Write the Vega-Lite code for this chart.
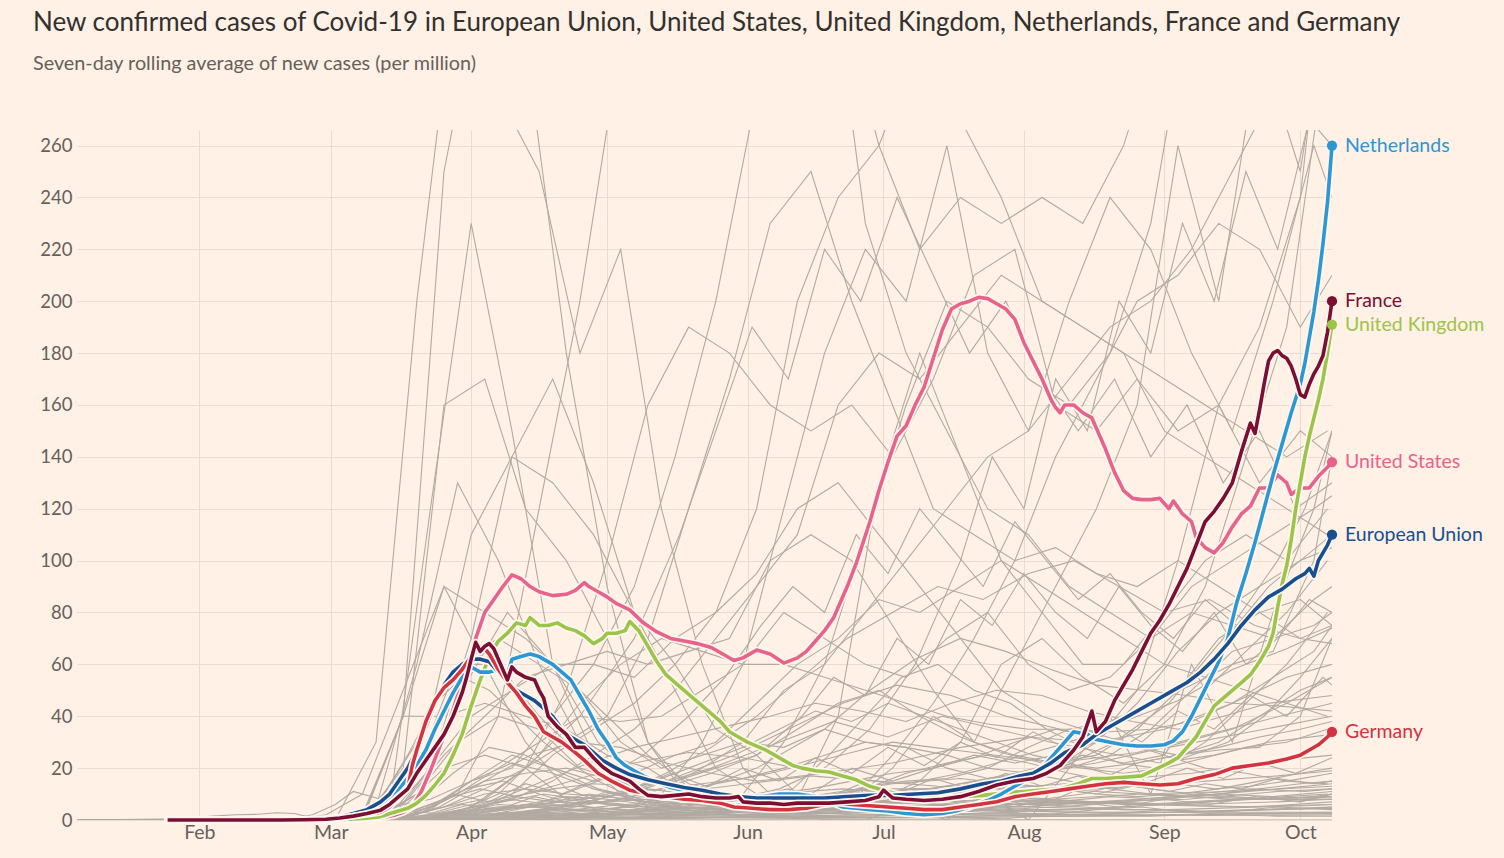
{
"$schema":"https://vega.github.io/schema/vega-lite/v6.json",
"width":1255,"height":690,
"autosize":{"type":"none"},
"padding":{"left":77,"top":130,"right":172,"bottom":38},
"background":"#fff1e5",
"config":{"view":{"stroke":null},"font":"Lato"},
"title":{"text":"New confirmed cases of Covid-19 in European Union, United States, United Kingdom, Netherlands, France and Germany","subtitle":"Seven-day rolling average of new cases (per million)","anchor":"start","frame":"group","dx":-44,"offset":56,"font":"Lato","fontSize":26,"fontWeight":"normal","color":"#33302e","subtitleFont":"Lato","subtitleFontSize":19.8,"subtitleColor":"#66605c","subtitlePadding":18},
"datasets":{
"grey":[
{"s":"h1","d":5,"v":0},{"s":"h1","d":68,"v":0},{"s":"h1","d":77,"v":40},{"s":"h1","d":86,"v":250},{"s":"h1","d":95,"v":330},{"s":"h1","d":104,"v":300},{"s":"h1","d":113,"v":180},{"s":"h1","d":122,"v":90},{"s":"h1","d":131,"v":30},{"s":"h1","d":140,"v":8},{"s":"h1","d":149,"v":5},{"s":"h1","d":158,"v":10},{"s":"h1","d":167,"v":5},{"s":"h1","d":176,"v":8},{"s":"h1","d":185,"v":20},{"s":"h1","d":194,"v":40},{"s":"h1","d":203,"v":30},{"s":"h1","d":212,"v":60},{"s":"h1","d":221,"v":90},{"s":"h1","d":230,"v":120},{"s":"h1","d":239,"v":160},{"s":"h1","d":248,"v":260},{"s":"h1","d":257,"v":200},{"s":"h1","d":266,"v":300},{"s":"h1","d":275,"v":250},{"s":"h1","d":282,"v":330},
{"s":"h2","d":5,"v":0},{"s":"h2","d":62,"v":0},{"s":"h2","d":71,"v":30},{"s":"h2","d":80,"v":200},{"s":"h2","d":89,"v":330},{"s":"h2","d":98,"v":280},{"s":"h2","d":107,"v":250},{"s":"h2","d":116,"v":180},{"s":"h2","d":125,"v":220},{"s":"h2","d":134,"v":120},{"s":"h2","d":143,"v":60},{"s":"h2","d":152,"v":20},{"s":"h2","d":161,"v":5},{"s":"h2","d":170,"v":0},{"s":"h2","d":179,"v":0},{"s":"h2","d":188,"v":5},{"s":"h2","d":197,"v":0},{"s":"h2","d":206,"v":10},{"s":"h2","d":215,"v":0},{"s":"h2","d":224,"v":20},{"s":"h2","d":233,"v":40},{"s":"h2","d":242,"v":10},{"s":"h2","d":251,"v":60},{"s":"h2","d":260,"v":30},{"s":"h2","d":269,"v":80},{"s":"h2","d":278,"v":120},{"s":"h2","d":282,"v":150},
{"s":"h3","d":5,"v":0},{"s":"h3","d":65,"v":0},{"s":"h3","d":74,"v":5},{"s":"h3","d":83,"v":120},{"s":"h3","d":92,"v":230},{"s":"h3","d":101,"v":150},{"s":"h3","d":110,"v":60},{"s":"h3","d":119,"v":25},{"s":"h3","d":128,"v":10},{"s":"h3","d":137,"v":5},{"s":"h3","d":146,"v":4},{"s":"h3","d":155,"v":3},{"s":"h3","d":164,"v":8},{"s":"h3","d":173,"v":40},{"s":"h3","d":182,"v":130},{"s":"h3","d":191,"v":180},{"s":"h3","d":200,"v":140},{"s":"h3","d":209,"v":100},{"s":"h3","d":218,"v":80},{"s":"h3","d":227,"v":60},{"s":"h3","d":236,"v":60},{"s":"h3","d":245,"v":80},{"s":"h3","d":254,"v":100},{"s":"h3","d":263,"v":110},{"s":"h3","d":272,"v":100},{"s":"h3","d":281,"v":120},
{"s":"h4","d":5,"v":0},{"s":"h4","d":68,"v":0},{"s":"h4","d":77,"v":20},{"s":"h4","d":86,"v":160},{"s":"h4","d":95,"v":170},{"s":"h4","d":104,"v":120},{"s":"h4","d":113,"v":100},{"s":"h4","d":122,"v":70},{"s":"h4","d":131,"v":30},{"s":"h4","d":140,"v":12},{"s":"h4","d":149,"v":8},{"s":"h4","d":158,"v":6},{"s":"h4","d":167,"v":6},{"s":"h4","d":176,"v":8},{"s":"h4","d":185,"v":25},{"s":"h4","d":194,"v":45},{"s":"h4","d":203,"v":70},{"s":"h4","d":212,"v":100},{"s":"h4","d":221,"v":140},{"s":"h4","d":230,"v":170},{"s":"h4","d":239,"v":200},{"s":"h4","d":248,"v":210},{"s":"h4","d":257,"v":230},{"s":"h4","d":266,"v":220},{"s":"h4","d":275,"v":190},{"s":"h4","d":282,"v":210},
{"s":"h5","d":5,"v":0},{"s":"h5","d":71,"v":0},{"s":"h5","d":80,"v":2},{"s":"h5","d":89,"v":10},{"s":"h5","d":98,"v":40},{"s":"h5","d":107,"v":120},{"s":"h5","d":116,"v":200},{"s":"h5","d":125,"v":300},{"s":"h5","d":134,"v":350},{"s":"h5","d":143,"v":420},{"s":"h5","d":152,"v":500},{"s":"h5","d":161,"v":450},{"s":"h5","d":170,"v":350},{"s":"h5","d":179,"v":230},{"s":"h5","d":188,"v":180},{"s":"h5","d":197,"v":150},{"s":"h5","d":206,"v":120},{"s":"h5","d":215,"v":110},{"s":"h5","d":224,"v":90},{"s":"h5","d":233,"v":80},{"s":"h5","d":242,"v":70},{"s":"h5","d":251,"v":80},{"s":"h5","d":260,"v":75},{"s":"h5","d":269,"v":70},{"s":"h5","d":278,"v":75},{"s":"h5","d":282,"v":80},
{"s":"h6","d":5,"v":0},{"s":"h6","d":65,"v":0},{"s":"h6","d":74,"v":5},{"s":"h6","d":83,"v":8},{"s":"h6","d":92,"v":15},{"s":"h6","d":101,"v":20},{"s":"h6","d":110,"v":40},{"s":"h6","d":119,"v":60},{"s":"h6","d":128,"v":90},{"s":"h6","d":137,"v":140},{"s":"h6","d":146,"v":200},{"s":"h6","d":155,"v":280},{"s":"h6","d":164,"v":300},{"s":"h6","d":173,"v":320},{"s":"h6","d":182,"v":260},{"s":"h6","d":191,"v":220},{"s":"h6","d":200,"v":240},{"s":"h6","d":209,"v":230},{"s":"h6","d":218,"v":240},{"s":"h6","d":227,"v":230},{"s":"h6","d":236,"v":260},{"s":"h6","d":245,"v":310},{"s":"h6","d":254,"v":370},{"s":"h6","d":263,"v":330},{"s":"h6","d":272,"v":300},{"s":"h6","d":281,"v":280},
{"s":"h7","d":5,"v":0},{"s":"h7","d":68,"v":0},{"s":"h7","d":77,"v":1},{"s":"h7","d":86,"v":5},{"s":"h7","d":95,"v":12},{"s":"h7","d":104,"v":20},{"s":"h7","d":113,"v":30},{"s":"h7","d":122,"v":40},{"s":"h7","d":131,"v":70},{"s":"h7","d":140,"v":120},{"s":"h7","d":149,"v":170},{"s":"h7","d":158,"v":230},{"s":"h7","d":167,"v":250},{"s":"h7","d":176,"v":200},{"s":"h7","d":185,"v":160},{"s":"h7","d":194,"v":120},{"s":"h7","d":203,"v":110},{"s":"h7","d":212,"v":100},{"s":"h7","d":221,"v":105},{"s":"h7","d":230,"v":95},{"s":"h7","d":239,"v":90},{"s":"h7","d":248,"v":100},{"s":"h7","d":257,"v":90},{"s":"h7","d":266,"v":80},{"s":"h7","d":275,"v":85},{"s":"h7","d":282,"v":75},
{"s":"h8","d":5,"v":0},{"s":"h8","d":62,"v":0},{"s":"h8","d":71,"v":5},{"s":"h8","d":80,"v":30},{"s":"h8","d":89,"v":60},{"s":"h8","d":98,"v":60},{"s":"h8","d":107,"v":40},{"s":"h8","d":116,"v":25},{"s":"h8","d":125,"v":10},{"s":"h8","d":134,"v":3},{"s":"h8","d":143,"v":3},{"s":"h8","d":152,"v":10},{"s":"h8","d":161,"v":30},{"s":"h8","d":170,"v":60},{"s":"h8","d":179,"v":110},{"s":"h8","d":188,"v":160},{"s":"h8","d":197,"v":200},{"s":"h8","d":206,"v":190},{"s":"h8","d":215,"v":170},{"s":"h8","d":224,"v":160},{"s":"h8","d":233,"v":180},{"s":"h8","d":242,"v":230},{"s":"h8","d":251,"v":320},{"s":"h8","d":260,"v":450},{"s":"h8","d":269,"v":600},{"s":"h8","d":278,"v":450},{"s":"h8","d":282,"v":350},
{"s":"h9","d":5,"v":0},{"s":"h9","d":74,"v":0},{"s":"h9","d":83,"v":20},{"s":"h9","d":92,"v":40},{"s":"h9","d":101,"v":50},{"s":"h9","d":110,"v":60},{"s":"h9","d":119,"v":60},{"s":"h9","d":128,"v":55},{"s":"h9","d":137,"v":70},{"s":"h9","d":146,"v":80},{"s":"h9","d":155,"v":120},{"s":"h9","d":164,"v":200},{"s":"h9","d":173,"v":240},{"s":"h9","d":182,"v":260},{"s":"h9","d":191,"v":300},{"s":"h9","d":200,"v":270},{"s":"h9","d":209,"v":240},{"s":"h9","d":218,"v":200},{"s":"h9","d":227,"v":190},{"s":"h9","d":236,"v":180},{"s":"h9","d":245,"v":170},{"s":"h9","d":254,"v":160},{"s":"h9","d":263,"v":150},{"s":"h9","d":272,"v":140},{"s":"h9","d":281,"v":150},
{"s":"h10","d":5,"v":0},{"s":"h10","d":68,"v":0},{"s":"h10","d":77,"v":5},{"s":"h10","d":86,"v":20},{"s":"h10","d":95,"v":25},{"s":"h10","d":104,"v":20},{"s":"h10","d":113,"v":8},{"s":"h10","d":122,"v":6},{"s":"h10","d":131,"v":5},{"s":"h10","d":140,"v":5},{"s":"h10","d":149,"v":5},{"s":"h10","d":158,"v":7},{"s":"h10","d":167,"v":10},{"s":"h10","d":176,"v":20},{"s":"h10","d":185,"v":15},{"s":"h10","d":194,"v":20},{"s":"h10","d":203,"v":25},{"s":"h10","d":212,"v":22},{"s":"h10","d":221,"v":25},{"s":"h10","d":230,"v":30},{"s":"h10","d":239,"v":50},{"s":"h10","d":248,"v":100},{"s":"h10","d":257,"v":160},{"s":"h10","d":266,"v":190},{"s":"h10","d":275,"v":240},{"s":"h10","d":282,"v":350},
{"s":"h11","d":5,"v":0},{"s":"h11","d":71,"v":0},{"s":"h11","d":80,"v":10},{"s":"h11","d":89,"v":30},{"s":"h11","d":98,"v":40},{"s":"h11","d":107,"v":35},{"s":"h11","d":116,"v":20},{"s":"h11","d":125,"v":15},{"s":"h11","d":134,"v":10},{"s":"h11","d":143,"v":30},{"s":"h11","d":152,"v":60},{"s":"h11","d":161,"v":120},{"s":"h11","d":170,"v":180},{"s":"h11","d":179,"v":220},{"s":"h11","d":188,"v":200},{"s":"h11","d":197,"v":260},{"s":"h11","d":206,"v":180},{"s":"h11","d":215,"v":150},{"s":"h11","d":224,"v":200},{"s":"h11","d":233,"v":240},{"s":"h11","d":242,"v":220},{"s":"h11","d":251,"v":180},{"s":"h11","d":260,"v":150},{"s":"h11","d":269,"v":200},{"s":"h11","d":278,"v":260},{"s":"h11","d":282,"v":240},
{"s":"h12","d":5,"v":0},{"s":"h12","d":65,"v":0},{"s":"h12","d":74,"v":3},{"s":"h12","d":83,"v":40},{"s":"h12","d":92,"v":110},{"s":"h12","d":101,"v":140},{"s":"h12","d":110,"v":130},{"s":"h12","d":119,"v":110},{"s":"h12","d":128,"v":80},{"s":"h12","d":137,"v":60},{"s":"h12","d":146,"v":35},{"s":"h12","d":155,"v":25},{"s":"h12","d":164,"v":10},{"s":"h12","d":173,"v":8},{"s":"h12","d":182,"v":8},{"s":"h12","d":191,"v":15},{"s":"h12","d":200,"v":30},{"s":"h12","d":209,"v":60},{"s":"h12","d":218,"v":70},{"s":"h12","d":227,"v":55},{"s":"h12","d":236,"v":45},{"s":"h12","d":245,"v":60},{"s":"h12","d":254,"v":90},{"s":"h12","d":263,"v":140},{"s":"h12","d":272,"v":190},{"s":"h12","d":281,"v":300},
{"s":"h13","d":5,"v":0},{"s":"h13","d":68,"v":0},{"s":"h13","d":77,"v":1},{"s":"h13","d":86,"v":5},{"s":"h13","d":95,"v":8},{"s":"h13","d":104,"v":20},{"s":"h13","d":113,"v":50},{"s":"h13","d":122,"v":100},{"s":"h13","d":131,"v":160},{"s":"h13","d":140,"v":190},{"s":"h13","d":149,"v":180},{"s":"h13","d":158,"v":160},{"s":"h13","d":167,"v":150},{"s":"h13","d":176,"v":160},{"s":"h13","d":185,"v":140},{"s":"h13","d":194,"v":170},{"s":"h13","d":203,"v":210},{"s":"h13","d":212,"v":220},{"s":"h13","d":221,"v":160},{"s":"h13","d":230,"v":150},{"s":"h13","d":239,"v":170},{"s":"h13","d":248,"v":150},{"s":"h13","d":257,"v":160},{"s":"h13","d":266,"v":130},{"s":"h13","d":275,"v":150},{"s":"h13","d":282,"v":140},
{"s":"h14","d":5,"v":0},{"s":"h14","d":71,"v":0},{"s":"h14","d":80,"v":1},{"s":"h14","d":89,"v":3},{"s":"h14","d":98,"v":5},{"s":"h14","d":107,"v":5},{"s":"h14","d":116,"v":6},{"s":"h14","d":125,"v":8},{"s":"h14","d":134,"v":12},{"s":"h14","d":143,"v":20},{"s":"h14","d":152,"v":30},{"s":"h14","d":161,"v":50},{"s":"h14","d":170,"v":60},{"s":"h14","d":179,"v":80},{"s":"h14","d":188,"v":100},{"s":"h14","d":197,"v":120},{"s":"h14","d":206,"v":140},{"s":"h14","d":215,"v":150},{"s":"h14","d":224,"v":170},{"s":"h14","d":233,"v":190},{"s":"h14","d":242,"v":200},{"s":"h14","d":251,"v":220},{"s":"h14","d":260,"v":250},{"s":"h14","d":269,"v":280},{"s":"h14","d":278,"v":300},{"s":"h14","d":282,"v":300},
{"s":"m1","d":5,"v":0},{"s":"m1","d":52,"v":0},{"s":"m1","d":60,"v":2},{"s":"m1","d":68,"v":10},{"s":"m1","d":77,"v":50},{"s":"m1","d":86,"v":90},{"s":"m1","d":95,"v":80},{"s":"m1","d":104,"v":70},{"s":"m1","d":113,"v":55},{"s":"m1","d":122,"v":40},{"s":"m1","d":131,"v":25},{"s":"m1","d":140,"v":14},{"s":"m1","d":149,"v":10},{"s":"m1","d":158,"v":6},{"s":"m1","d":167,"v":5},{"s":"m1","d":176,"v":4},{"s":"m1","d":185,"v":3},{"s":"m1","d":194,"v":4},{"s":"m1","d":203,"v":4},{"s":"m1","d":212,"v":6},{"s":"m1","d":221,"v":8},{"s":"m1","d":230,"v":15},{"s":"m1","d":239,"v":22},{"s":"m1","d":248,"v":25},{"s":"m1","d":257,"v":27},{"s":"m1","d":266,"v":28},{"s":"m1","d":275,"v":40},{"s":"m1","d":282,"v":70},
{"s":"m2","d":5,"v":0},{"s":"m2","d":62,"v":0},{"s":"m2","d":71,"v":5},{"s":"m2","d":80,"v":60},{"s":"m2","d":89,"v":130},{"s":"m2","d":98,"v":100},{"s":"m2","d":107,"v":60},{"s":"m2","d":116,"v":30},{"s":"m2","d":125,"v":15},{"s":"m2","d":134,"v":6},{"s":"m2","d":143,"v":3},{"s":"m2","d":152,"v":2},{"s":"m2","d":161,"v":3},{"s":"m2","d":170,"v":8},{"s":"m2","d":179,"v":13},{"s":"m2","d":188,"v":15},{"s":"m2","d":197,"v":16},{"s":"m2","d":206,"v":20},{"s":"m2","d":215,"v":28},{"s":"m2","d":224,"v":35},{"s":"m2","d":233,"v":38},{"s":"m2","d":242,"v":45},{"s":"m2","d":251,"v":52},{"s":"m2","d":260,"v":60},{"s":"m2","d":269,"v":65},{"s":"m2","d":278,"v":100},{"s":"m2","d":282,"v":140},
{"s":"m3","d":5,"v":0},{"s":"m3","d":65,"v":0},{"s":"m3","d":74,"v":2},{"s":"m3","d":83,"v":20},{"s":"m3","d":92,"v":70},{"s":"m3","d":101,"v":140},{"s":"m3","d":110,"v":170},{"s":"m3","d":119,"v":130},{"s":"m3","d":128,"v":80},{"s":"m3","d":137,"v":50},{"s":"m3","d":146,"v":20},{"s":"m3","d":155,"v":10},{"s":"m3","d":164,"v":4},{"s":"m3","d":173,"v":4},{"s":"m3","d":182,"v":3},{"s":"m3","d":191,"v":4},{"s":"m3","d":200,"v":5},{"s":"m3","d":209,"v":12},{"s":"m3","d":218,"v":20},{"s":"m3","d":227,"v":25},{"s":"m3","d":236,"v":22},{"s":"m3","d":245,"v":25},{"s":"m3","d":254,"v":50},{"s":"m3","d":263,"v":65},{"s":"m3","d":272,"v":80},{"s":"m3","d":281,"v":100},
{"s":"m4","d":5,"v":0},{"s":"m4","d":68,"v":0},{"s":"m4","d":77,"v":6},{"s":"m4","d":86,"v":25},{"s":"m4","d":95,"v":40},{"s":"m4","d":104,"v":55},{"s":"m4","d":113,"v":60},{"s":"m4","d":122,"v":65},{"s":"m4","d":131,"v":60},{"s":"m4","d":140,"v":65},{"s":"m4","d":149,"v":70},{"s":"m4","d":158,"v":100},{"s":"m4","d":167,"v":110},{"s":"m4","d":176,"v":100},{"s":"m4","d":185,"v":75},{"s":"m4","d":194,"v":50},{"s":"m4","d":203,"v":30},{"s":"m4","d":212,"v":25},{"s":"m4","d":221,"v":22},{"s":"m4","d":230,"v":20},{"s":"m4","d":239,"v":22},{"s":"m4","d":248,"v":25},{"s":"m4","d":257,"v":30},{"s":"m4","d":266,"v":40},{"s":"m4","d":275,"v":50},{"s":"m4","d":282,"v":55},
{"s":"m5","d":5,"v":0},{"s":"m5","d":62,"v":0},{"s":"m5","d":71,"v":1},{"s":"m5","d":80,"v":20},{"s":"m5","d":89,"v":60},{"s":"m5","d":98,"v":70},{"s":"m5","d":107,"v":60},{"s":"m5","d":116,"v":50},{"s":"m5","d":125,"v":30},{"s":"m5","d":134,"v":20},{"s":"m5","d":143,"v":25},{"s":"m5","d":152,"v":30},{"s":"m5","d":161,"v":28},{"s":"m5","d":170,"v":35},{"s":"m5","d":179,"v":30},{"s":"m5","d":188,"v":28},{"s":"m5","d":197,"v":20},{"s":"m5","d":206,"v":16},{"s":"m5","d":215,"v":18},{"s":"m5","d":224,"v":20},{"s":"m5","d":233,"v":25},{"s":"m5","d":242,"v":35},{"s":"m5","d":251,"v":50},{"s":"m5","d":260,"v":65},{"s":"m5","d":269,"v":70},{"s":"m5","d":278,"v":85},{"s":"m5","d":282,"v":90},
{"s":"m6","d":5,"v":0},{"s":"m6","d":74,"v":0},{"s":"m6","d":83,"v":1},{"s":"m6","d":92,"v":4},{"s":"m6","d":101,"v":8},{"s":"m6","d":110,"v":15},{"s":"m6","d":119,"v":25},{"s":"m6","d":128,"v":35},{"s":"m6","d":137,"v":50},{"s":"m6","d":146,"v":70},{"s":"m6","d":155,"v":90},{"s":"m6","d":164,"v":110},{"s":"m6","d":173,"v":160},{"s":"m6","d":182,"v":180},{"s":"m6","d":191,"v":170},{"s":"m6","d":200,"v":190},{"s":"m6","d":209,"v":210},{"s":"m6","d":218,"v":200},{"s":"m6","d":227,"v":190},{"s":"m6","d":236,"v":180},{"s":"m6","d":245,"v":150},{"s":"m6","d":254,"v":140},{"s":"m6","d":263,"v":130},{"s":"m6","d":272,"v":120},{"s":"m6","d":281,"v":110},
{"s":"m7","d":5,"v":0},{"s":"m7","d":60,"v":0},{"s":"m7","d":68,"v":1},{"s":"m7","d":77,"v":40},{"s":"m7","d":86,"v":40},{"s":"m7","d":95,"v":45},{"s":"m7","d":104,"v":40},{"s":"m7","d":113,"v":35},{"s":"m7","d":122,"v":25},{"s":"m7","d":131,"v":20},{"s":"m7","d":140,"v":10},{"s":"m7","d":149,"v":6},{"s":"m7","d":158,"v":5},{"s":"m7","d":167,"v":4},{"s":"m7","d":176,"v":5},{"s":"m7","d":185,"v":7},{"s":"m7","d":194,"v":9},{"s":"m7","d":203,"v":15},{"s":"m7","d":212,"v":18},{"s":"m7","d":221,"v":22},{"s":"m7","d":230,"v":25},{"s":"m7","d":239,"v":35},{"s":"m7","d":248,"v":50},{"s":"m7","d":257,"v":70},{"s":"m7","d":266,"v":80},{"s":"m7","d":275,"v":70},{"s":"m7","d":282,"v":75},
{"s":"m8","d":5,"v":0},{"s":"m8","d":71,"v":0},{"s":"m8","d":80,"v":1},{"s":"m8","d":89,"v":3},{"s":"m8","d":98,"v":10},{"s":"m8","d":107,"v":25},{"s":"m8","d":116,"v":45},{"s":"m8","d":125,"v":60},{"s":"m8","d":134,"v":70},{"s":"m8","d":143,"v":65},{"s":"m8","d":152,"v":60},{"s":"m8","d":161,"v":60},{"s":"m8","d":170,"v":55},{"s":"m8","d":179,"v":50},{"s":"m8","d":188,"v":45},{"s":"m8","d":197,"v":40},{"s":"m8","d":206,"v":37},{"s":"m8","d":215,"v":35},{"s":"m8","d":224,"v":35},{"s":"m8","d":233,"v":34},{"s":"m8","d":242,"v":35},{"s":"m8","d":251,"v":38},{"s":"m8","d":260,"v":45},{"s":"m8","d":269,"v":55},{"s":"m8","d":278,"v":65},{"s":"m8","d":282,"v":75},
{"s":"m9","d":5,"v":0},{"s":"m9","d":74,"v":0},{"s":"m9","d":83,"v":1},{"s":"m9","d":92,"v":3},{"s":"m9","d":101,"v":10},{"s":"m9","d":110,"v":25},{"s":"m9","d":119,"v":35},{"s":"m9","d":128,"v":45},{"s":"m9","d":137,"v":60},{"s":"m9","d":146,"v":80},{"s":"m9","d":155,"v":95},{"s":"m9","d":164,"v":120},{"s":"m9","d":173,"v":130},{"s":"m9","d":182,"v":110},{"s":"m9","d":191,"v":90},{"s":"m9","d":200,"v":70},{"s":"m9","d":209,"v":50},{"s":"m9","d":218,"v":40},{"s":"m9","d":227,"v":35},{"s":"m9","d":236,"v":30},{"s":"m9","d":245,"v":25},{"s":"m9","d":254,"v":20},{"s":"m9","d":263,"v":18},{"s":"m9","d":272,"v":15},{"s":"m9","d":281,"v":14},
{"s":"m10","d":5,"v":0},{"s":"m10","d":60,"v":0},{"s":"m10","d":68,"v":2},{"s":"m10","d":77,"v":40},{"s":"m10","d":86,"v":90},{"s":"m10","d":95,"v":60},{"s":"m10","d":104,"v":30},{"s":"m10","d":113,"v":12},{"s":"m10","d":122,"v":6},{"s":"m10","d":131,"v":4},{"s":"m10","d":140,"v":3},{"s":"m10","d":149,"v":3},{"s":"m10","d":158,"v":4},{"s":"m10","d":167,"v":6},{"s":"m10","d":176,"v":10},{"s":"m10","d":185,"v":12},{"s":"m10","d":194,"v":12},{"s":"m10","d":203,"v":15},{"s":"m10","d":212,"v":13},{"s":"m10","d":221,"v":20},{"s":"m10","d":230,"v":30},{"s":"m10","d":239,"v":45},{"s":"m10","d":248,"v":65},{"s":"m10","d":257,"v":80},{"s":"m10","d":266,"v":90},{"s":"m10","d":275,"v":100},{"s":"m10","d":282,"v":110},
{"s":"m11","d":5,"v":0},{"s":"m11","d":71,"v":0},{"s":"m11","d":80,"v":2},{"s":"m11","d":89,"v":10},{"s":"m11","d":98,"v":20},{"s":"m11","d":107,"v":30},{"s":"m11","d":116,"v":40},{"s":"m11","d":125,"v":38},{"s":"m11","d":134,"v":40},{"s":"m11","d":143,"v":50},{"s":"m11","d":152,"v":60},{"s":"m11","d":161,"v":80},{"s":"m11","d":170,"v":70},{"s":"m11","d":179,"v":60},{"s":"m11","d":188,"v":55},{"s":"m11","d":197,"v":70},{"s":"m11","d":206,"v":80},{"s":"m11","d":215,"v":60},{"s":"m11","d":224,"v":50},{"s":"m11","d":233,"v":55},{"s":"m11","d":242,"v":70},{"s":"m11","d":251,"v":90},{"s":"m11","d":260,"v":100},{"s":"m11","d":269,"v":110},{"s":"m11","d":278,"v":120},{"s":"m11","d":282,"v":125},
{"s":"m12","d":5,"v":0},{"s":"m12","d":74,"v":0},{"s":"m12","d":83,"v":4},{"s":"m12","d":92,"v":15},{"s":"m12","d":101,"v":25},{"s":"m12","d":110,"v":20},{"s":"m12","d":119,"v":15},{"s":"m12","d":128,"v":18},{"s":"m12","d":137,"v":25},{"s":"m12","d":146,"v":30},{"s":"m12","d":155,"v":45},{"s":"m12","d":164,"v":60},{"s":"m12","d":173,"v":70},{"s":"m12","d":182,"v":85},{"s":"m12","d":191,"v":80},{"s":"m12","d":200,"v":90},{"s":"m12","d":209,"v":100},{"s":"m12","d":218,"v":90},{"s":"m12","d":227,"v":80},{"s":"m12","d":236,"v":70},{"s":"m12","d":245,"v":60},{"s":"m12","d":254,"v":55},{"s":"m12","d":263,"v":50},{"s":"m12","d":272,"v":45},{"s":"m12","d":281,"v":40},
{"s":"l1","d":5,"v":0},{"s":"l1","d":28,"v":0.5},{"s":"l1","d":35,"v":1.5},{"s":"l1","d":40,"v":2},{"s":"l1","d":45,"v":2.2},{"s":"l1","d":49,"v":2.8},{"s":"l1","d":53,"v":2.5},{"s":"l1","d":56,"v":1.2},{"s":"l1","d":59,"v":0.5},{"s":"l1","d":63,"v":0.3},{"s":"l1","d":70,"v":0.2},{"s":"l1","d":100,"v":0.1},{"s":"l1","d":282,"v":0},
{"s":"l2","d":5,"v":0},{"s":"l2","d":52,"v":0.3},{"s":"l2","d":57,"v":2},{"s":"l2","d":62,"v":6},{"s":"l2","d":66,"v":11},{"s":"l2","d":72,"v":8},{"s":"l2","d":80,"v":3},{"s":"l2","d":90,"v":2},{"s":"l2","d":104,"v":1},{"s":"l2","d":113,"v":0.5},{"s":"l2","d":130,"v":0.5},{"s":"l2","d":150,"v":1},{"s":"l2","d":170,"v":1},{"s":"l2","d":190,"v":1},{"s":"l2","d":210,"v":0.5},{"s":"l2","d":230,"v":4},{"s":"l2","d":240,"v":5},{"s":"l2","d":250,"v":3},{"s":"l2","d":260,"v":2},{"s":"l2","d":270,"v":1.5},{"s":"l2","d":282,"v":1.5},
{"s":"l3","d":5,"v":0},{"s":"l3","d":68,"v":0},{"s":"l3","d":77,"v":1},{"s":"l3","d":86,"v":5},{"s":"l3","d":95,"v":10},{"s":"l3","d":104,"v":12},{"s":"l3","d":113,"v":10},{"s":"l3","d":122,"v":9},{"s":"l3","d":131,"v":7},{"s":"l3","d":140,"v":6},{"s":"l3","d":149,"v":5},{"s":"l3","d":158,"v":6},{"s":"l3","d":167,"v":7},{"s":"l3","d":176,"v":8},{"s":"l3","d":185,"v":9},{"s":"l3","d":194,"v":10},{"s":"l3","d":203,"v":12},{"s":"l3","d":212,"v":14},{"s":"l3","d":221,"v":12},{"s":"l3","d":230,"v":10},{"s":"l3","d":239,"v":9},{"s":"l3","d":248,"v":10},{"s":"l3","d":257,"v":12},{"s":"l3","d":266,"v":15},{"s":"l3","d":275,"v":18},{"s":"l3","d":282,"v":20},
{"s":"l4","d":5,"v":0},{"s":"l4","d":71,"v":0},{"s":"l4","d":80,"v":0.5},{"s":"l4","d":89,"v":2},{"s":"l4","d":98,"v":4},{"s":"l4","d":107,"v":6},{"s":"l4","d":116,"v":8},{"s":"l4","d":125,"v":10},{"s":"l4","d":134,"v":12},{"s":"l4","d":143,"v":14},{"s":"l4","d":152,"v":16},{"s":"l4","d":161,"v":20},{"s":"l4","d":170,"v":25},{"s":"l4","d":179,"v":30},{"s":"l4","d":188,"v":28},{"s":"l4","d":197,"v":25},{"s":"l4","d":206,"v":20},{"s":"l4","d":215,"v":18},{"s":"l4","d":224,"v":15},{"s":"l4","d":233,"v":12},{"s":"l4","d":242,"v":10},{"s":"l4","d":251,"v":9},{"s":"l4","d":260,"v":8},{"s":"l4","d":269,"v":8},{"s":"l4","d":278,"v":9},{"s":"l4","d":282,"v":10},
{"s":"l5","d":5,"v":0},{"s":"l5","d":74,"v":0},{"s":"l5","d":83,"v":0.3},{"s":"l5","d":92,"v":1},{"s":"l5","d":101,"v":2},{"s":"l5","d":110,"v":3},{"s":"l5","d":119,"v":4},{"s":"l5","d":128,"v":5},{"s":"l5","d":137,"v":6},{"s":"l5","d":146,"v":7},{"s":"l5","d":155,"v":8},{"s":"l5","d":164,"v":9},{"s":"l5","d":173,"v":10},{"s":"l5","d":182,"v":11},{"s":"l5","d":191,"v":12},{"s":"l5","d":200,"v":10},{"s":"l5","d":209,"v":9},{"s":"l5","d":218,"v":8},{"s":"l5","d":227,"v":7},{"s":"l5","d":236,"v":6},{"s":"l5","d":245,"v":6},{"s":"l5","d":254,"v":7},{"s":"l5","d":263,"v":8},{"s":"l5","d":272,"v":9},{"s":"l5","d":281,"v":10},
{"s":"l6","d":5,"v":0},{"s":"l6","d":68,"v":0},{"s":"l6","d":77,"v":0.2},{"s":"l6","d":86,"v":1},{"s":"l6","d":95,"v":3},{"s":"l6","d":104,"v":6},{"s":"l6","d":113,"v":9},{"s":"l6","d":122,"v":8},{"s":"l6","d":131,"v":6},{"s":"l6","d":140,"v":5},{"s":"l6","d":149,"v":4},{"s":"l6","d":158,"v":3},{"s":"l6","d":167,"v":3},{"s":"l6","d":176,"v":2},{"s":"l6","d":185,"v":2},{"s":"l6","d":194,"v":3},{"s":"l6","d":203,"v":4},{"s":"l6","d":212,"v":5},{"s":"l6","d":221,"v":6},{"s":"l6","d":230,"v":7},{"s":"l6","d":239,"v":8},{"s":"l6","d":248,"v":9},{"s":"l6","d":257,"v":10},{"s":"l6","d":266,"v":12},{"s":"l6","d":275,"v":14},{"s":"l6","d":282,"v":15},
{"s":"l7","d":5,"v":0},{"s":"l7","d":71,"v":0},{"s":"l7","d":80,"v":1},{"s":"l7","d":89,"v":3},{"s":"l7","d":98,"v":6},{"s":"l7","d":107,"v":5},{"s":"l7","d":116,"v":4},{"s":"l7","d":125,"v":3},{"s":"l7","d":134,"v":2},{"s":"l7","d":143,"v":2},{"s":"l7","d":152,"v":3},{"s":"l7","d":161,"v":5},{"s":"l7","d":170,"v":8},{"s":"l7","d":179,"v":12},{"s":"l7","d":188,"v":18},{"s":"l7","d":197,"v":22},{"s":"l7","d":206,"v":25},{"s":"l7","d":215,"v":22},{"s":"l7","d":224,"v":18},{"s":"l7","d":233,"v":15},{"s":"l7","d":242,"v":12},{"s":"l7","d":251,"v":10},{"s":"l7","d":260,"v":9},{"s":"l7","d":269,"v":8},{"s":"l7","d":278,"v":8},{"s":"l7","d":282,"v":8},
{"s":"l8","d":5,"v":0},{"s":"l8","d":74,"v":0},{"s":"l8","d":83,"v":0.5},{"s":"l8","d":92,"v":2},{"s":"l8","d":101,"v":3},{"s":"l8","d":110,"v":2},{"s":"l8","d":119,"v":1.5},{"s":"l8","d":128,"v":1},{"s":"l8","d":146,"v":1},{"s":"l8","d":155,"v":1.5},{"s":"l8","d":164,"v":2},{"s":"l8","d":173,"v":2.5},{"s":"l8","d":182,"v":3},{"s":"l8","d":191,"v":4},{"s":"l8","d":200,"v":5},{"s":"l8","d":209,"v":6},{"s":"l8","d":218,"v":6},{"s":"l8","d":227,"v":5},{"s":"l8","d":236,"v":4},{"s":"l8","d":245,"v":4},{"s":"l8","d":254,"v":3},{"s":"l8","d":281,"v":3},
{"s":"l9","d":5,"v":0},{"s":"l9","d":68,"v":0},{"s":"l9","d":77,"v":2},{"s":"l9","d":86,"v":8},{"s":"l9","d":95,"v":15},{"s":"l9","d":104,"v":18},{"s":"l9","d":113,"v":20},{"s":"l9","d":122,"v":16},{"s":"l9","d":131,"v":12},{"s":"l9","d":140,"v":10},{"s":"l9","d":149,"v":8},{"s":"l9","d":158,"v":10},{"s":"l9","d":167,"v":12},{"s":"l9","d":176,"v":15},{"s":"l9","d":185,"v":18},{"s":"l9","d":194,"v":20},{"s":"l9","d":203,"v":24},{"s":"l9","d":212,"v":30},{"s":"l9","d":221,"v":35},{"s":"l9","d":230,"v":32},{"s":"l9","d":239,"v":28},{"s":"l9","d":248,"v":25},{"s":"l9","d":257,"v":28},{"s":"l9","d":266,"v":32},{"s":"l9","d":275,"v":35},{"s":"l9","d":282,"v":38},
{"s":"l10","d":5,"v":0},{"s":"l10","d":71,"v":0},{"s":"l10","d":80,"v":0.2},{"s":"l10","d":89,"v":0.5},{"s":"l10","d":98,"v":1},{"s":"l10","d":107,"v":1.5},{"s":"l10","d":116,"v":2},{"s":"l10","d":125,"v":2},{"s":"l10","d":134,"v":2.5},{"s":"l10","d":143,"v":3},{"s":"l10","d":152,"v":3.5},{"s":"l10","d":161,"v":4},{"s":"l10","d":170,"v":4.5},{"s":"l10","d":179,"v":5},{"s":"l10","d":188,"v":5},{"s":"l10","d":197,"v":4.5},{"s":"l10","d":206,"v":4},{"s":"l10","d":215,"v":3.5},{"s":"l10","d":224,"v":3},{"s":"l10","d":251,"v":3},{"s":"l10","d":260,"v":3.5},{"s":"l10","d":269,"v":4},{"s":"l10","d":278,"v":4.5},{"s":"l10","d":282,"v":5},
{"s":"l11","d":5,"v":0},{"s":"l11","d":65,"v":0},{"s":"l11","d":74,"v":1},{"s":"l11","d":83,"v":5},{"s":"l11","d":92,"v":15},{"s":"l11","d":101,"v":22},{"s":"l11","d":110,"v":18},{"s":"l11","d":119,"v":12},{"s":"l11","d":128,"v":8},{"s":"l11","d":137,"v":5},{"s":"l11","d":146,"v":4},{"s":"l11","d":155,"v":3},{"s":"l11","d":164,"v":3},{"s":"l11","d":173,"v":4},{"s":"l11","d":182,"v":6},{"s":"l11","d":191,"v":8},{"s":"l11","d":200,"v":7},{"s":"l11","d":209,"v":6},{"s":"l11","d":218,"v":8},{"s":"l11","d":227,"v":10},{"s":"l11","d":236,"v":14},{"s":"l11","d":245,"v":20},{"s":"l11","d":254,"v":30},{"s":"l11","d":263,"v":45},{"s":"l11","d":272,"v":60},{"s":"l11","d":281,"v":80},
{"s":"l12","d":5,"v":0},{"s":"l12","d":68,"v":0},{"s":"l12","d":77,"v":0.5},{"s":"l12","d":86,"v":2},{"s":"l12","d":95,"v":4},{"s":"l12","d":104,"v":5},{"s":"l12","d":113,"v":6},{"s":"l12","d":122,"v":7},{"s":"l12","d":131,"v":8},{"s":"l12","d":140,"v":12},{"s":"l12","d":149,"v":15},{"s":"l12","d":158,"v":18},{"s":"l12","d":167,"v":22},{"s":"l12","d":176,"v":26},{"s":"l12","d":185,"v":30},{"s":"l12","d":194,"v":28},{"s":"l12","d":203,"v":26},{"s":"l12","d":212,"v":24},{"s":"l12","d":221,"v":22},{"s":"l12","d":230,"v":24},{"s":"l12","d":239,"v":26},{"s":"l12","d":248,"v":30},{"s":"l12","d":257,"v":34},{"s":"l12","d":266,"v":38},{"s":"l12","d":275,"v":42},{"s":"l12","d":282,"v":45},
{"s":"l13","d":5,"v":0},{"s":"l13","d":71,"v":0},{"s":"l13","d":89,"v":0.2},{"s":"l13","d":98,"v":0.5},{"s":"l13","d":107,"v":1},{"s":"l13","d":125,"v":1},{"s":"l13","d":134,"v":1.5},{"s":"l13","d":143,"v":2},{"s":"l13","d":161,"v":2.5},{"s":"l13","d":170,"v":3},{"s":"l13","d":179,"v":3},{"s":"l13","d":188,"v":2.5},{"s":"l13","d":197,"v":2},{"s":"l13","d":215,"v":1.5},{"s":"l13","d":242,"v":1.5},{"s":"l13","d":251,"v":2},{"s":"l13","d":269,"v":2.5},{"s":"l13","d":282,"v":3},
{"s":"l14","d":5,"v":0},{"s":"l14","d":74,"v":0},{"s":"l14","d":83,"v":2},{"s":"l14","d":92,"v":6},{"s":"l14","d":101,"v":9},{"s":"l14","d":110,"v":12},{"s":"l14","d":119,"v":14},{"s":"l14","d":128,"v":13},{"s":"l14","d":137,"v":15},{"s":"l14","d":146,"v":20},{"s":"l14","d":155,"v":25},{"s":"l14","d":164,"v":35},{"s":"l14","d":173,"v":45},{"s":"l14","d":182,"v":50},{"s":"l14","d":191,"v":40},{"s":"l14","d":200,"v":32},{"s":"l14","d":209,"v":26},{"s":"l14","d":218,"v":22},{"s":"l14","d":227,"v":20},{"s":"l14","d":236,"v":18},{"s":"l14","d":245,"v":20},{"s":"l14","d":254,"v":24},{"s":"l14","d":263,"v":28},{"s":"l14","d":272,"v":30},{"s":"l14","d":281,"v":35},
{"s":"n1","d":5,"v":0},{"s":"n1","d":72,"v":0},{"s":"n1","d":80,"v":3},{"s":"n1","d":88,"v":10},{"s":"n1","d":96,"v":7},{"s":"n1","d":104,"v":14},{"s":"n1","d":112,"v":10},{"s":"n1","d":120,"v":16},{"s":"n1","d":128,"v":12},{"s":"n1","d":136,"v":18},{"s":"n1","d":144,"v":13},{"s":"n1","d":152,"v":20},{"s":"n1","d":160,"v":15},{"s":"n1","d":168,"v":24},{"s":"n1","d":176,"v":18},{"s":"n1","d":184,"v":28},{"s":"n1","d":192,"v":21},{"s":"n1","d":200,"v":30},{"s":"n1","d":208,"v":24},{"s":"n1","d":216,"v":34},{"s":"n1","d":224,"v":27},{"s":"n1","d":232,"v":38},{"s":"n1","d":240,"v":30},{"s":"n1","d":248,"v":42},{"s":"n1","d":256,"v":35},{"s":"n1","d":264,"v":48},{"s":"n1","d":272,"v":40},{"s":"n1","d":280,"v":55},{"s":"n1","d":282,"v":52},
{"s":"n2","d":5,"v":0},{"s":"n2","d":75,"v":0},{"s":"n2","d":85,"v":1},{"s":"n2","d":95,"v":3},{"s":"n2","d":105,"v":5},{"s":"n2","d":115,"v":4},{"s":"n2","d":125,"v":6},{"s":"n2","d":135,"v":4},{"s":"n2","d":145,"v":7},{"s":"n2","d":155,"v":5},{"s":"n2","d":165,"v":8},{"s":"n2","d":175,"v":6},{"s":"n2","d":185,"v":9},{"s":"n2","d":195,"v":6},{"s":"n2","d":205,"v":8},{"s":"n2","d":215,"v":5},{"s":"n2","d":225,"v":7},{"s":"n2","d":235,"v":5},{"s":"n2","d":245,"v":8},{"s":"n2","d":255,"v":6},{"s":"n2","d":265,"v":9},{"s":"n2","d":275,"v":7},{"s":"n2","d":282,"v":10},
{"s":"n3","d":5,"v":0},{"s":"n3","d":78,"v":0},{"s":"n3","d":90,"v":1},{"s":"n3","d":102,"v":2},{"s":"n3","d":114,"v":1.5},{"s":"n3","d":126,"v":3},{"s":"n3","d":138,"v":2},{"s":"n3","d":150,"v":3.5},{"s":"n3","d":162,"v":2.5},{"s":"n3","d":174,"v":4},{"s":"n3","d":186,"v":3},{"s":"n3","d":198,"v":2},{"s":"n3","d":210,"v":3},{"s":"n3","d":222,"v":2},{"s":"n3","d":234,"v":2.5},{"s":"n3","d":246,"v":4},{"s":"n3","d":258,"v":3},{"s":"n3","d":270,"v":5},{"s":"n3","d":282,"v":4},
{"s":"n4","d":5,"v":0},{"s":"n4","d":80,"v":0},{"s":"n4","d":92,"v":2},{"s":"n4","d":104,"v":5},{"s":"n4","d":116,"v":8},{"s":"n4","d":128,"v":12},{"s":"n4","d":140,"v":20},{"s":"n4","d":152,"v":28},{"s":"n4","d":160,"v":35},{"s":"n4","d":168,"v":42},{"s":"n4","d":176,"v":38},{"s":"n4","d":184,"v":45},{"s":"n4","d":192,"v":40},{"s":"n4","d":200,"v":35},{"s":"n4","d":208,"v":30},{"s":"n4","d":216,"v":25},{"s":"n4","d":224,"v":22},{"s":"n4","d":232,"v":18},{"s":"n4","d":240,"v":15},{"s":"n4","d":248,"v":14},{"s":"n4","d":256,"v":12},{"s":"n4","d":264,"v":13},{"s":"n4","d":272,"v":15},{"s":"n4","d":282,"v":18},
{"s":"n5","d":5,"v":0},{"s":"n5","d":85,"v":0},{"s":"n5","d":100,"v":2},{"s":"n5","d":115,"v":5},{"s":"n5","d":130,"v":10},{"s":"n5","d":145,"v":18},{"s":"n5","d":155,"v":25},{"s":"n5","d":165,"v":40},{"s":"n5","d":172,"v":55},{"s":"n5","d":179,"v":48},{"s":"n5","d":186,"v":70},{"s":"n5","d":193,"v":60},{"s":"n5","d":200,"v":85},{"s":"n5","d":207,"v":75},{"s":"n5","d":214,"v":95},{"s":"n5","d":221,"v":80},{"s":"n5","d":228,"v":70},{"s":"n5","d":235,"v":90},{"s":"n5","d":242,"v":75},{"s":"n5","d":249,"v":65},{"s":"n5","d":256,"v":80},{"s":"n5","d":263,"v":60},{"s":"n5","d":270,"v":70},{"s":"n5","d":277,"v":85},{"s":"n5","d":282,"v":80},
{"s":"n6","d":5,"v":0},{"s":"n6","d":70,"v":0},{"s":"n6","d":78,"v":3},{"s":"n6","d":86,"v":8},{"s":"n6","d":94,"v":12},{"s":"n6","d":102,"v":9},{"s":"n6","d":110,"v":7},{"s":"n6","d":118,"v":10},{"s":"n6","d":126,"v":8},{"s":"n6","d":134,"v":6},{"s":"n6","d":142,"v":8},{"s":"n6","d":150,"v":5},{"s":"n6","d":158,"v":7},{"s":"n6","d":166,"v":6},{"s":"n6","d":174,"v":9},{"s":"n6","d":182,"v":7},{"s":"n6","d":190,"v":10},{"s":"n6","d":198,"v":8},{"s":"n6","d":206,"v":11},{"s":"n6","d":214,"v":9},{"s":"n6","d":222,"v":12},{"s":"n6","d":230,"v":10},{"s":"n6","d":238,"v":13},{"s":"n6","d":246,"v":11},{"s":"n6","d":254,"v":14},{"s":"n6","d":262,"v":12},{"s":"n6","d":270,"v":16},{"s":"n6","d":278,"v":14},{"s":"n6","d":282,"v":15},
{"s":"n7","d":5,"v":0},{"s":"n7","d":75,"v":0},{"s":"n7","d":83,"v":5},{"s":"n7","d":91,"v":12},{"s":"n7","d":99,"v":15},{"s":"n7","d":107,"v":10},{"s":"n7","d":115,"v":6},{"s":"n7","d":123,"v":3},{"s":"n7","d":131,"v":2},{"s":"n7","d":139,"v":2},{"s":"n7","d":147,"v":3},{"s":"n7","d":155,"v":5},{"s":"n7","d":163,"v":12},{"s":"n7","d":171,"v":25},{"s":"n7","d":179,"v":40},{"s":"n7","d":187,"v":55},{"s":"n7","d":195,"v":60},{"s":"n7","d":203,"v":50},{"s":"n7","d":211,"v":45},{"s":"n7","d":219,"v":35},{"s":"n7","d":227,"v":28},{"s":"n7","d":235,"v":22},{"s":"n7","d":243,"v":20},{"s":"n7","d":251,"v":25},{"s":"n7","d":259,"v":30},{"s":"n7","d":267,"v":40},{"s":"n7","d":275,"v":55},{"s":"n7","d":282,"v":70},
{"s":"n8","d":5,"v":0},{"s":"n8","d":80,"v":0},{"s":"n8","d":95,"v":1},{"s":"n8","d":110,"v":4},{"s":"n8","d":125,"v":10},{"s":"n8","d":135,"v":18},{"s":"n8","d":145,"v":28},{"s":"n8","d":155,"v":40},{"s":"n8","d":165,"v":55},{"s":"n8","d":175,"v":70},{"s":"n8","d":185,"v":80},{"s":"n8","d":195,"v":90},{"s":"n8","d":205,"v":85},{"s":"n8","d":215,"v":95},{"s":"n8","d":225,"v":100},{"s":"n8","d":235,"v":90},{"s":"n8","d":245,"v":80},{"s":"n8","d":255,"v":85},{"s":"n8","d":265,"v":75},{"s":"n8","d":275,"v":70},{"s":"n8","d":282,"v":68},
{"s":"n9","d":5,"v":0},{"s":"n9","d":80,"v":0},{"s":"n9","d":100,"v":0.5},{"s":"n9","d":120,"v":1},{"s":"n9","d":140,"v":0.8},{"s":"n9","d":160,"v":1.5},{"s":"n9","d":180,"v":2},{"s":"n9","d":200,"v":2.5},{"s":"n9","d":220,"v":2},{"s":"n9","d":240,"v":1.8},{"s":"n9","d":260,"v":2.2},{"s":"n9","d":282,"v":2.5},
{"s":"n10","d":5,"v":0},{"s":"n10","d":72,"v":0},{"s":"n10","d":84,"v":2},{"s":"n10","d":96,"v":6},{"s":"n10","d":108,"v":10},{"s":"n10","d":120,"v":7},{"s":"n10","d":132,"v":5},{"s":"n10","d":144,"v":4},{"s":"n10","d":156,"v":6},{"s":"n10","d":168,"v":9},{"s":"n10","d":180,"v":12},{"s":"n10","d":192,"v":10},{"s":"n10","d":204,"v":8},{"s":"n10","d":216,"v":7},{"s":"n10","d":228,"v":6},{"s":"n10","d":240,"v":8},{"s":"n10","d":252,"v":10},{"s":"n10","d":264,"v":12},{"s":"n10","d":276,"v":11},{"s":"n10","d":282,"v":12},
{"s":"n11","d":5,"v":0},{"s":"n11","d":66,"v":0},{"s":"n11","d":72,"v":8},{"s":"n11","d":78,"v":25},{"s":"n11","d":84,"v":45},{"s":"n11","d":90,"v":55},{"s":"n11","d":96,"v":50},{"s":"n11","d":102,"v":40},{"s":"n11","d":108,"v":30},{"s":"n11","d":114,"v":22},{"s":"n11","d":120,"v":15},{"s":"n11","d":126,"v":10},{"s":"n11","d":132,"v":6},{"s":"n11","d":138,"v":4},{"s":"n11","d":150,"v":3},{"s":"n11","d":162,"v":4},{"s":"n11","d":174,"v":6},{"s":"n11","d":186,"v":8},{"s":"n11","d":198,"v":10},{"s":"n11","d":210,"v":14},{"s":"n11","d":222,"v":20},{"s":"n11","d":234,"v":30},{"s":"n11","d":246,"v":45},{"s":"n11","d":258,"v":70},{"s":"n11","d":270,"v":100},{"s":"n11","d":276,"v":120},{"s":"n11","d":282,"v":150},
{"s":"n12","d":5,"v":0},{"s":"n12","d":90,"v":0},{"s":"n12","d":105,"v":5},{"s":"n12","d":120,"v":15},{"s":"n12","d":130,"v":25},{"s":"n12","d":140,"v":40},{"s":"n12","d":148,"v":55},{"s":"n12","d":156,"v":75},{"s":"n12","d":163,"v":90},{"s":"n12","d":170,"v":80},{"s":"n12","d":177,"v":110},{"s":"n12","d":184,"v":95},{"s":"n12","d":191,"v":120},{"s":"n12","d":198,"v":105},{"s":"n12","d":205,"v":90},{"s":"n12","d":212,"v":115},{"s":"n12","d":219,"v":100},{"s":"n12","d":226,"v":85},{"s":"n12","d":233,"v":95},{"s":"n12","d":240,"v":80},{"s":"n12","d":247,"v":70},{"s":"n12","d":254,"v":85},{"s":"n12","d":261,"v":75},{"s":"n12","d":268,"v":90},{"s":"n12","d":275,"v":100},{"s":"n12","d":282,"v":105},
{"s":"n13","d":5,"v":0},{"s":"n13","d":85,"v":0},{"s":"n13","d":95,"v":0.5},{"s":"n13","d":105,"v":1},{"s":"n13","d":115,"v":2},{"s":"n13","d":125,"v":3},{"s":"n13","d":135,"v":4},{"s":"n13","d":145,"v":5},{"s":"n13","d":155,"v":6},{"s":"n13","d":165,"v":7},{"s":"n13","d":175,"v":8},{"s":"n13","d":185,"v":7},{"s":"n13","d":195,"v":6},{"s":"n13","d":205,"v":5},{"s":"n13","d":215,"v":4},{"s":"n13","d":225,"v":4},{"s":"n13","d":235,"v":5},{"s":"n13","d":245,"v":6},{"s":"n13","d":255,"v":7},{"s":"n13","d":265,"v":8},{"s":"n13","d":275,"v":8},{"s":"n13","d":282,"v":9},
{"s":"n14","d":5,"v":0},{"s":"n14","d":74,"v":0},{"s":"n14","d":82,"v":2},{"s":"n14","d":90,"v":6},{"s":"n14","d":98,"v":4},{"s":"n14","d":106,"v":9},{"s":"n14","d":114,"v":6},{"s":"n14","d":122,"v":11},{"s":"n14","d":130,"v":7},{"s":"n14","d":138,"v":10},{"s":"n14","d":146,"v":6},{"s":"n14","d":154,"v":9},{"s":"n14","d":162,"v":12},{"s":"n14","d":170,"v":8},{"s":"n14","d":178,"v":14},{"s":"n14","d":186,"v":10},{"s":"n14","d":194,"v":16},{"s":"n14","d":202,"v":12},{"s":"n14","d":210,"v":18},{"s":"n14","d":218,"v":13},{"s":"n14","d":226,"v":17},{"s":"n14","d":234,"v":12},{"s":"n14","d":242,"v":15},{"s":"n14","d":250,"v":20},{"s":"n14","d":258,"v":16},{"s":"n14","d":266,"v":22},{"s":"n14","d":274,"v":18},{"s":"n14","d":282,"v":24},
{"s":"n15","d":5,"v":0},{"s":"n15","d":78,"v":0},{"s":"n15","d":88,"v":3},{"s":"n15","d":98,"v":8},{"s":"n15","d":108,"v":15},{"s":"n15","d":118,"v":22},{"s":"n15","d":128,"v":28},{"s":"n15","d":138,"v":32},{"s":"n15","d":148,"v":36},{"s":"n15","d":158,"v":40},{"s":"n15","d":168,"v":45},{"s":"n15","d":178,"v":42},{"s":"n15","d":188,"v":38},{"s":"n15","d":198,"v":45},{"s":"n15","d":208,"v":50},{"s":"n15","d":218,"v":48},{"s":"n15","d":228,"v":42},{"s":"n15","d":238,"v":38},{"s":"n15","d":248,"v":35},{"s":"n15","d":258,"v":40},{"s":"n15","d":268,"v":45},{"s":"n15","d":282,"v":48},
{"s":"n16","d":5,"v":0},{"s":"n16","d":76,"v":0},{"s":"n16","d":86,"v":1},{"s":"n16","d":96,"v":2},{"s":"n16","d":106,"v":3},{"s":"n16","d":116,"v":2.5},{"s":"n16","d":126,"v":2},{"s":"n16","d":136,"v":1.5},{"s":"n16","d":146,"v":1.5},{"s":"n16","d":156,"v":2},{"s":"n16","d":166,"v":2.5},{"s":"n16","d":176,"v":3},{"s":"n16","d":186,"v":4},{"s":"n16","d":196,"v":5},{"s":"n16","d":206,"v":5.5},{"s":"n16","d":216,"v":5},{"s":"n16","d":226,"v":4.5},{"s":"n16","d":236,"v":4},{"s":"n16","d":246,"v":4},{"s":"n16","d":256,"v":4.5},{"s":"n16","d":266,"v":5},{"s":"n16","d":276,"v":5.5},{"s":"n16","d":282,"v":6},
{"s":"n17","d":5,"v":0},{"s":"n17","d":70,"v":0},{"s":"n17","d":80,"v":10},{"s":"n17","d":90,"v":50},{"s":"n17","d":100,"v":80},{"s":"n17","d":110,"v":60},{"s":"n17","d":120,"v":30},{"s":"n17","d":130,"v":15},{"s":"n17","d":140,"v":10},{"s":"n17","d":150,"v":8},{"s":"n17","d":160,"v":12},{"s":"n17","d":170,"v":20},{"s":"n17","d":180,"v":35},{"s":"n17","d":190,"v":60},{"s":"n17","d":200,"v":100},{"s":"n17","d":207,"v":140},{"s":"n17","d":214,"v":120},{"s":"n17","d":221,"v":170},{"s":"n17","d":228,"v":150},{"s":"n17","d":235,"v":200},{"s":"n17","d":242,"v":180},{"s":"n17","d":249,"v":230},{"s":"n17","d":256,"v":200},{"s":"n17","d":263,"v":250},{"s":"n17","d":270,"v":220},{"s":"n17","d":277,"v":270},{"s":"n17","d":282,"v":260},
{"s":"n18","d":5,"v":0},{"s":"n18","d":80,"v":0},{"s":"n18","d":92,"v":5},{"s":"n18","d":104,"v":20},{"s":"n18","d":116,"v":40},{"s":"n18","d":128,"v":70},{"s":"n18","d":138,"v":110},{"s":"n18","d":146,"v":150},{"s":"n18","d":154,"v":190},{"s":"n18","d":162,"v":170},{"s":"n18","d":170,"v":220},{"s":"n18","d":178,"v":200},{"s":"n18","d":186,"v":240},{"s":"n18","d":194,"v":210},{"s":"n18","d":202,"v":180},{"s":"n18","d":210,"v":200},{"s":"n18","d":218,"v":170},{"s":"n18","d":226,"v":150},{"s":"n18","d":234,"v":170},{"s":"n18","d":242,"v":140},{"s":"n18","d":250,"v":160},{"s":"n18","d":258,"v":130},{"s":"n18","d":266,"v":150},{"s":"n18","d":274,"v":120},{"s":"n18","d":282,"v":130},
{"s":"p1","d":5,"v":0},{"s":"p1","d":80,"v":0},{"s":"p1","d":95,"v":2},{"s":"p1","d":110,"v":4},{"s":"p1","d":125,"v":3},{"s":"p1","d":140,"v":5},{"s":"p1","d":160,"v":4},{"s":"p1","d":180,"v":6},{"s":"p1","d":200,"v":5},{"s":"p1","d":220,"v":7},{"s":"p1","d":240,"v":6},{"s":"p1","d":260,"v":8},{"s":"p1","d":282,"v":9},
{"s":"p2","d":5,"v":0},{"s":"p2","d":82,"v":0},{"s":"p2","d":98,"v":1},{"s":"p2","d":115,"v":3},{"s":"p2","d":130,"v":6},{"s":"p2","d":145,"v":4},{"s":"p2","d":165,"v":7},{"s":"p2","d":185,"v":5},{"s":"p2","d":205,"v":3},{"s":"p2","d":225,"v":4},{"s":"p2","d":245,"v":6},{"s":"p2","d":265,"v":5},{"s":"p2","d":282,"v":7},
{"s":"p3","d":5,"v":0},{"s":"p3","d":78,"v":0},{"s":"p3","d":92,"v":3},{"s":"p3","d":104,"v":6},{"s":"p3","d":118,"v":5},{"s":"p3","d":132,"v":3},{"s":"p3","d":150,"v":2},{"s":"p3","d":170,"v":2.5},{"s":"p3","d":190,"v":3},{"s":"p3","d":210,"v":4},{"s":"p3","d":230,"v":6},{"s":"p3","d":250,"v":9},{"s":"p3","d":270,"v":12},{"s":"p3","d":282,"v":14},
{"s":"p4","d":5,"v":0},{"s":"p4","d":85,"v":0},{"s":"p4","d":100,"v":0.5},{"s":"p4","d":120,"v":1.5},{"s":"p4","d":140,"v":3},{"s":"p4","d":160,"v":5},{"s":"p4","d":175,"v":9},{"s":"p4","d":190,"v":12},{"s":"p4","d":205,"v":10},{"s":"p4","d":220,"v":8},{"s":"p4","d":240,"v":6},{"s":"p4","d":260,"v":5},{"s":"p4","d":282,"v":6},
{"s":"p5","d":5,"v":0},{"s":"p5","d":88,"v":0},{"s":"p5","d":105,"v":1},{"s":"p5","d":125,"v":2},{"s":"p5","d":145,"v":2},{"s":"p5","d":165,"v":1.5},{"s":"p5","d":185,"v":1},{"s":"p5","d":205,"v":1.5},{"s":"p5","d":225,"v":2},{"s":"p5","d":245,"v":3},{"s":"p5","d":265,"v":4},{"s":"p5","d":282,"v":5},
{"s":"p6","d":5,"v":0},{"s":"p6","d":76,"v":0},{"s":"p6","d":90,"v":4},{"s":"p6","d":100,"v":8},{"s":"p6","d":110,"v":6},{"s":"p6","d":125,"v":4},{"s":"p6","d":140,"v":3},{"s":"p6","d":160,"v":3},{"s":"p6","d":180,"v":4},{"s":"p6","d":200,"v":6},{"s":"p6","d":220,"v":8},{"s":"p6","d":240,"v":10},{"s":"p6","d":260,"v":11},{"s":"p6","d":282,"v":13},
{"s":"p7","d":5,"v":0},{"s":"p7","d":90,"v":0},{"s":"p7","d":110,"v":1},{"s":"p7","d":130,"v":3},{"s":"p7","d":150,"v":6},{"s":"p7","d":170,"v":10},{"s":"p7","d":185,"v":14},{"s":"p7","d":200,"v":16},{"s":"p7","d":215,"v":13},{"s":"p7","d":230,"v":11},{"s":"p7","d":250,"v":9},{"s":"p7","d":270,"v":8},{"s":"p7","d":282,"v":8},
{"s":"p8","d":5,"v":0},{"s":"p8","d":84,"v":0},{"s":"p8","d":96,"v":2},{"s":"p8","d":108,"v":1.5},{"s":"p8","d":124,"v":1},{"s":"p8","d":144,"v":0.8},{"s":"p8","d":164,"v":0.6},{"s":"p8","d":184,"v":0.8},{"s":"p8","d":204,"v":1},{"s":"p8","d":224,"v":1.5},{"s":"p8","d":244,"v":2},{"s":"p8","d":264,"v":2.5},{"s":"p8","d":282,"v":3},
{"s":"p9","d":5,"v":0},{"s":"p9","d":80,"v":0},{"s":"p9","d":94,"v":1},{"s":"p9","d":112,"v":2},{"s":"p9","d":128,"v":4},{"s":"p9","d":146,"v":7},{"s":"p9","d":162,"v":9},{"s":"p9","d":178,"v":7},{"s":"p9","d":194,"v":6},{"s":"p9","d":210,"v":6},{"s":"p9","d":230,"v":7},{"s":"p9","d":250,"v":8},{"s":"p9","d":270,"v":11},{"s":"p9","d":282,"v":12},
{"s":"p10","d":5,"v":0},{"s":"p10","d":86,"v":0},{"s":"p10","d":102,"v":3},{"s":"p10","d":118,"v":2},{"s":"p10","d":134,"v":4},{"s":"p10","d":150,"v":3},{"s":"p10","d":166,"v":5},{"s":"p10","d":182,"v":4},{"s":"p10","d":198,"v":6},{"s":"p10","d":214,"v":5},{"s":"p10","d":230,"v":7},{"s":"p10","d":246,"v":6},{"s":"p10","d":262,"v":8},{"s":"p10","d":282,"v":9},
{"s":"p11","d":5,"v":0},{"s":"p11","d":74,"v":0},{"s":"p11","d":86,"v":2},{"s":"p11","d":98,"v":5},{"s":"p11","d":112,"v":7},{"s":"p11","d":126,"v":6},{"s":"p11","d":142,"v":8},{"s":"p11","d":158,"v":10},{"s":"p11","d":174,"v":12},{"s":"p11","d":190,"v":10},{"s":"p11","d":206,"v":9},{"s":"p11","d":222,"v":11},{"s":"p11","d":238,"v":13},{"s":"p11","d":254,"v":15},{"s":"p11","d":270,"v":17},{"s":"p11","d":282,"v":19},
{"s":"p12","d":5,"v":0},{"s":"p12","d":92,"v":0},{"s":"p12","d":108,"v":0.5},{"s":"p12","d":128,"v":1},{"s":"p12","d":148,"v":2},{"s":"p12","d":168,"v":3},{"s":"p12","d":188,"v":4},{"s":"p12","d":208,"v":3.5},{"s":"p12","d":228,"v":3},{"s":"p12","d":248,"v":3},{"s":"p12","d":268,"v":4},{"s":"p12","d":282,"v":4.5},
{"s":"p13","d":5,"v":0},{"s":"p13","d":80,"v":0},{"s":"p13","d":90,"v":1},{"s":"p13","d":100,"v":2},{"s":"p13","d":115,"v":2.5},{"s":"p13","d":130,"v":2},{"s":"p13","d":150,"v":3},{"s":"p13","d":170,"v":5},{"s":"p13","d":190,"v":7},{"s":"p13","d":210,"v":8},{"s":"p13","d":230,"v":7},{"s":"p13","d":250,"v":6},{"s":"p13","d":270,"v":7},{"s":"p13","d":282,"v":8},
{"s":"p14","d":5,"v":0},{"s":"p14","d":83,"v":0},{"s":"p14","d":97,"v":2},{"s":"p14","d":111,"v":5},{"s":"p14","d":125,"v":8},{"s":"p14","d":139,"v":11},{"s":"p14","d":153,"v":14},{"s":"p14","d":167,"v":17},{"s":"p14","d":181,"v":15},{"s":"p14","d":195,"v":13},{"s":"p14","d":209,"v":12},{"s":"p14","d":223,"v":14},{"s":"p14","d":237,"v":16},{"s":"p14","d":251,"v":18},{"s":"p14","d":265,"v":22},{"s":"p14","d":282,"v":25},
{"s":"p15","d":5,"v":0},{"s":"p15","d":95,"v":0},{"s":"p15","d":115,"v":0.3},{"s":"p15","d":135,"v":0.8},{"s":"p15","d":155,"v":1.2},{"s":"p15","d":175,"v":1.5},{"s":"p15","d":195,"v":2},{"s":"p15","d":215,"v":2.5},{"s":"p15","d":235,"v":2},{"s":"p15","d":255,"v":1.8},{"s":"p15","d":282,"v":2},
{"s":"p16","d":5,"v":0},{"s":"p16","d":77,"v":0},{"s":"p16","d":89,"v":1},{"s":"p16","d":101,"v":2},{"s":"p16","d":113,"v":4},{"s":"p16","d":125,"v":3},{"s":"p16","d":137,"v":5},{"s":"p16","d":149,"v":4},{"s":"p16","d":161,"v":6},{"s":"p16","d":173,"v":5},{"s":"p16","d":185,"v":7},{"s":"p16","d":197,"v":6},{"s":"p16","d":209,"v":8},{"s":"p16","d":221,"v":7},{"s":"p16","d":233,"v":9},{"s":"p16","d":245,"v":8},{"s":"p16","d":257,"v":10},{"s":"p16","d":269,"v":9},{"s":"p16","d":282,"v":11},
{"s":"q1","d":5,"v":0},{"s":"q1","d":75,"v":0},{"s":"q1","d":85,"v":5},{"s":"q1","d":95,"v":15},{"s":"q1","d":105,"v":25},{"s":"q1","d":115,"v":30},{"s":"q1","d":125,"v":28},{"s":"q1","d":135,"v":22},{"s":"q1","d":145,"v":18},{"s":"q1","d":155,"v":15},{"s":"q1","d":170,"v":18},{"s":"q1","d":185,"v":22},{"s":"q1","d":200,"v":28},{"s":"q1","d":215,"v":32},{"s":"q1","d":230,"v":30},{"s":"q1","d":245,"v":35},{"s":"q1","d":260,"v":45},{"s":"q1","d":272,"v":55},{"s":"q1","d":282,"v":60},
{"s":"q2","d":5,"v":0},{"s":"q2","d":90,"v":0},{"s":"q2","d":105,"v":3},{"s":"q2","d":120,"v":8},{"s":"q2","d":135,"v":15},{"s":"q2","d":150,"v":25},{"s":"q2","d":162,"v":35},{"s":"q2","d":174,"v":45},{"s":"q2","d":186,"v":52},{"s":"q2","d":198,"v":48},{"s":"q2","d":210,"v":40},{"s":"q2","d":222,"v":35},{"s":"q2","d":234,"v":30},{"s":"q2","d":246,"v":28},{"s":"q2","d":258,"v":32},{"s":"q2","d":270,"v":36},{"s":"q2","d":282,"v":40},
{"s":"q3","d":5,"v":0},{"s":"q3","d":72,"v":0},{"s":"q3","d":80,"v":6},{"s":"q3","d":88,"v":18},{"s":"q3","d":96,"v":28},{"s":"q3","d":104,"v":25},{"s":"q3","d":112,"v":18},{"s":"q3","d":120,"v":12},{"s":"q3","d":130,"v":8},{"s":"q3","d":140,"v":6},{"s":"q3","d":155,"v":5},{"s":"q3","d":170,"v":7},{"s":"q3","d":185,"v":10},{"s":"q3","d":200,"v":14},{"s":"q3","d":215,"v":18},{"s":"q3","d":230,"v":22},{"s":"q3","d":245,"v":28},{"s":"q3","d":260,"v":35},{"s":"q3","d":272,"v":45},{"s":"q3","d":282,"v":55},
{"s":"q4","d":5,"v":0},{"s":"q4","d":85,"v":0},{"s":"q4","d":100,"v":2},{"s":"q4","d":115,"v":6},{"s":"q4","d":130,"v":12},{"s":"q4","d":145,"v":20},{"s":"q4","d":160,"v":30},{"s":"q4","d":172,"v":38},{"s":"q4","d":184,"v":32},{"s":"q4","d":196,"v":40},{"s":"q4","d":208,"v":35},{"s":"q4","d":220,"v":30},{"s":"q4","d":232,"v":26},{"s":"q4","d":244,"v":22},{"s":"q4","d":256,"v":25},{"s":"q4","d":268,"v":30},{"s":"q4","d":282,"v":33},
{"s":"q5","d":5,"v":0},{"s":"q5","d":80,"v":0},{"s":"q5","d":92,"v":4},{"s":"q5","d":104,"v":10},{"s":"q5","d":116,"v":16},{"s":"q5","d":128,"v":22},{"s":"q5","d":140,"v":26},{"s":"q5","d":152,"v":24},{"s":"q5","d":164,"v":20},{"s":"q5","d":176,"v":16},{"s":"q5","d":188,"v":14},{"s":"q5","d":200,"v":18},{"s":"q5","d":212,"v":24},{"s":"q5","d":224,"v":30},{"s":"q5","d":236,"v":38},{"s":"q5","d":248,"v":46},{"s":"q5","d":260,"v":58},{"s":"q5","d":272,"v":66},{"s":"q5","d":282,"v":74},
{"s":"q6","d":5,"v":0},{"s":"q6","d":100,"v":0},{"s":"q6","d":120,"v":3},{"s":"q6","d":140,"v":10},{"s":"q6","d":155,"v":20},{"s":"q6","d":170,"v":35},{"s":"q6","d":180,"v":50},{"s":"q6","d":190,"v":62},{"s":"q6","d":200,"v":70},{"s":"q6","d":210,"v":65},{"s":"q6","d":220,"v":58},{"s":"q6","d":230,"v":52},{"s":"q6","d":240,"v":50},{"s":"q6","d":250,"v":48},{"s":"q6","d":260,"v":45},{"s":"q6","d":270,"v":44},{"s":"q6","d":282,"v":42}
],
"hi":[
{"s":"Germany","d":25,"v":0},{"s":"Germany","d":45,"v":0},{"s":"Germany","d":56,"v":0.2},{"s":"Germany","d":60,"v":0.4},{"s":"Germany","d":63,"v":0.8},{"s":"Germany","d":66,"v":1.5},{"s":"Germany","d":69,"v":2.2},{"s":"Germany","d":72,"v":3},{"s":"Germany","d":74,"v":5},{"s":"Germany","d":76,"v":9},{"s":"Germany","d":78,"v":12},{"s":"Germany","d":79,"v":21},{"s":"Germany","d":80,"v":27},{"s":"Germany","d":82,"v":38},{"s":"Germany","d":84,"v":46},{"s":"Germany","d":86,"v":51},{"s":"Germany","d":88,"v":54},{"s":"Germany","d":90,"v":58},{"s":"Germany","d":92,"v":63},{"s":"Germany","d":94,"v":67},{"s":"Germany","d":95,"v":66},{"s":"Germany","d":96,"v":64},{"s":"Germany","d":98,"v":58},{"s":"Germany","d":100,"v":53},{"s":"Germany","d":102,"v":49},{"s":"Germany","d":104,"v":44},{"s":"Germany","d":106,"v":40},{"s":"Germany","d":108,"v":34},{"s":"Germany","d":110,"v":32},{"s":"Germany","d":112,"v":30},{"s":"Germany","d":115,"v":26},{"s":"Germany","d":117,"v":23},{"s":"Germany","d":120,"v":18},{"s":"Germany","d":123,"v":15},{"s":"Germany","d":127,"v":11.5},{"s":"Germany","d":131,"v":10},{"s":"Germany","d":135,"v":9},{"s":"Germany","d":139,"v":8},{"s":"Germany","d":143,"v":7.5},{"s":"Germany","d":147,"v":6.5},{"s":"Germany","d":150,"v":5},{"s":"Germany","d":154,"v":4.5},{"s":"Germany","d":158,"v":4},{"s":"Germany","d":162,"v":4},{"s":"Germany","d":166,"v":4.5},{"s":"Germany","d":170,"v":6},{"s":"Germany","d":173,"v":6.5},{"s":"Germany","d":176,"v":6},{"s":"Germany","d":180,"v":5.5},{"s":"Germany","d":184,"v":5},{"s":"Germany","d":188,"v":4.5},{"s":"Germany","d":192,"v":4},{"s":"Germany","d":196,"v":4},{"s":"Germany","d":200,"v":5},{"s":"Germany","d":204,"v":6},{"s":"Germany","d":208,"v":7},{"s":"Germany","d":212,"v":9},{"s":"Germany","d":216,"v":10},{"s":"Germany","d":220,"v":11},{"s":"Germany","d":224,"v":12},{"s":"Germany","d":228,"v":13},{"s":"Germany","d":232,"v":14},{"s":"Germany","d":236,"v":14.5},{"s":"Germany","d":240,"v":14},{"s":"Germany","d":244,"v":13.5},{"s":"Germany","d":248,"v":14},{"s":"Germany","d":252,"v":16},{"s":"Germany","d":256,"v":17.5},{"s":"Germany","d":260,"v":20},{"s":"Germany","d":264,"v":21},{"s":"Germany","d":268,"v":22},{"s":"Germany","d":272,"v":23.5},{"s":"Germany","d":275,"v":25},{"s":"Germany","d":277,"v":27},{"s":"Germany","d":279,"v":29},{"s":"Germany","d":281,"v":32},{"s":"Germany","d":282,"v":34},
{"s":"European Union","d":25,"v":0},{"s":"European Union","d":50,"v":0},{"s":"European Union","d":55,"v":0.2},{"s":"European Union","d":60,"v":0.5},{"s":"European Union","d":63,"v":1.2},{"s":"European Union","d":66,"v":2.5},{"s":"European Union","d":69,"v":4},{"s":"European Union","d":72,"v":7},{"s":"European Union","d":74,"v":10},{"s":"European Union","d":76,"v":15},{"s":"European Union","d":78,"v":20},{"s":"European Union","d":80,"v":27},{"s":"European Union","d":82,"v":36},{"s":"European Union","d":84,"v":45},{"s":"European Union","d":86,"v":52},{"s":"European Union","d":88,"v":57},{"s":"European Union","d":90,"v":60},{"s":"European Union","d":92,"v":62},{"s":"European Union","d":94,"v":62},{"s":"European Union","d":96,"v":61},{"s":"European Union","d":98,"v":57},{"s":"European Union","d":100,"v":53},{"s":"European Union","d":102,"v":50},{"s":"European Union","d":104,"v":48},{"s":"European Union","d":106,"v":46},{"s":"European Union","d":108,"v":43},{"s":"European Union","d":110,"v":40},{"s":"European Union","d":112,"v":35},{"s":"European Union","d":114,"v":32},{"s":"European Union","d":117,"v":29},{"s":"European Union","d":121,"v":23},{"s":"European Union","d":124,"v":20},{"s":"European Union","d":127,"v":17.5},{"s":"European Union","d":131,"v":15.5},{"s":"European Union","d":135,"v":14},{"s":"European Union","d":139,"v":12.5},{"s":"European Union","d":143,"v":11.5},{"s":"European Union","d":147,"v":10},{"s":"European Union","d":151,"v":9},{"s":"European Union","d":155,"v":8.5},{"s":"European Union","d":160,"v":8.5},{"s":"European Union","d":165,"v":8.5},{"s":"European Union","d":170,"v":8.5},{"s":"European Union","d":175,"v":9},{"s":"European Union","d":180,"v":9.5},{"s":"European Union","d":185,"v":9.5},{"s":"European Union","d":190,"v":10},{"s":"European Union","d":195,"v":10.5},{"s":"European Union","d":200,"v":12},{"s":"European Union","d":205,"v":14},{"s":"European Union","d":209,"v":15},{"s":"European Union","d":213,"v":17},{"s":"European Union","d":216,"v":18},{"s":"European Union","d":220,"v":22},{"s":"European Union","d":223,"v":26},{"s":"European Union","d":227,"v":29},{"s":"European Union","d":230,"v":33},{"s":"European Union","d":234,"v":37},{"s":"European Union","d":238,"v":41},{"s":"European Union","d":242,"v":45},{"s":"European Union","d":246,"v":49},{"s":"European Union","d":250,"v":53},{"s":"European Union","d":253,"v":57},{"s":"European Union","d":256,"v":62},{"s":"European Union","d":259,"v":68},{"s":"European Union","d":262,"v":75},{"s":"European Union","d":265,"v":81},{"s":"European Union","d":268,"v":86},{"s":"European Union","d":271,"v":89},{"s":"European Union","d":274,"v":93},{"s":"European Union","d":276,"v":95},{"s":"European Union","d":277,"v":97},{"s":"European Union","d":278,"v":94},{"s":"European Union","d":279,"v":100},{"s":"European Union","d":280,"v":103},{"s":"European Union","d":281,"v":106},{"s":"European Union","d":282,"v":110},
{"s":"Netherlands","d":25,"v":0},{"s":"Netherlands","d":55,"v":0},{"s":"Netherlands","d":60,"v":0.2},{"s":"Netherlands","d":63,"v":0.8},{"s":"Netherlands","d":66,"v":2},{"s":"Netherlands","d":69,"v":4},{"s":"Netherlands","d":72,"v":6},{"s":"Netherlands","d":74,"v":9},{"s":"Netherlands","d":76,"v":12},{"s":"Netherlands","d":78,"v":16},{"s":"Netherlands","d":80,"v":21},{"s":"Netherlands","d":82,"v":27},{"s":"Netherlands","d":84,"v":35},{"s":"Netherlands","d":86,"v":42},{"s":"Netherlands","d":88,"v":49},{"s":"Netherlands","d":90,"v":55},{"s":"Netherlands","d":92,"v":59},{"s":"Netherlands","d":94,"v":57},{"s":"Netherlands","d":96,"v":57},{"s":"Netherlands","d":98,"v":58},{"s":"Netherlands","d":100,"v":56},{"s":"Netherlands","d":101,"v":62},{"s":"Netherlands","d":103,"v":63},{"s":"Netherlands","d":105,"v":64},{"s":"Netherlands","d":107,"v":63},{"s":"Netherlands","d":110,"v":60},{"s":"Netherlands","d":112,"v":57},{"s":"Netherlands","d":114,"v":54},{"s":"Netherlands","d":116,"v":48},{"s":"Netherlands","d":118,"v":42},{"s":"Netherlands","d":120,"v":35},{"s":"Netherlands","d":122,"v":30},{"s":"Netherlands","d":124,"v":24},{"s":"Netherlands","d":126,"v":21},{"s":"Netherlands","d":128,"v":19},{"s":"Netherlands","d":130,"v":17},{"s":"Netherlands","d":133,"v":14.5},{"s":"Netherlands","d":136,"v":12.5},{"s":"Netherlands","d":140,"v":11},{"s":"Netherlands","d":144,"v":10},{"s":"Netherlands","d":148,"v":9.5},{"s":"Netherlands","d":152,"v":9},{"s":"Netherlands","d":156,"v":9},{"s":"Netherlands","d":160,"v":10},{"s":"Netherlands","d":164,"v":10},{"s":"Netherlands","d":168,"v":9},{"s":"Netherlands","d":171,"v":7},{"s":"Netherlands","d":174,"v":5},{"s":"Netherlands","d":177,"v":4.5},{"s":"Netherlands","d":180,"v":4},{"s":"Netherlands","d":184,"v":3.5},{"s":"Netherlands","d":188,"v":2.5},{"s":"Netherlands","d":192,"v":2},{"s":"Netherlands","d":196,"v":2.5},{"s":"Netherlands","d":199,"v":3.5},{"s":"Netherlands","d":202,"v":5},{"s":"Netherlands","d":206,"v":7.5},{"s":"Netherlands","d":209,"v":10},{"s":"Netherlands","d":212,"v":13},{"s":"Netherlands","d":216,"v":17},{"s":"Netherlands","d":219,"v":22},{"s":"Netherlands","d":222,"v":28},{"s":"Netherlands","d":225,"v":34},{"s":"Netherlands","d":228,"v":33},{"s":"Netherlands","d":230,"v":31},{"s":"Netherlands","d":233,"v":30},{"s":"Netherlands","d":236,"v":29},{"s":"Netherlands","d":239,"v":28.5},{"s":"Netherlands","d":242,"v":28.5},{"s":"Netherlands","d":245,"v":29},{"s":"Netherlands","d":247,"v":30.5},{"s":"Netherlands","d":249,"v":34},{"s":"Netherlands","d":251,"v":40},{"s":"Netherlands","d":253,"v":47},{"s":"Netherlands","d":255,"v":54},{"s":"Netherlands","d":257,"v":61},{"s":"Netherlands","d":259,"v":70},{"s":"Netherlands","d":261,"v":84},{"s":"Netherlands","d":263,"v":95},{"s":"Netherlands","d":265,"v":107},{"s":"Netherlands","d":267,"v":120},{"s":"Netherlands","d":269,"v":133},{"s":"Netherlands","d":271,"v":145},{"s":"Netherlands","d":273,"v":157},{"s":"Netherlands","d":275,"v":168},{"s":"Netherlands","d":276,"v":176},{"s":"Netherlands","d":277,"v":186},{"s":"Netherlands","d":278,"v":196},{"s":"Netherlands","d":279,"v":208},{"s":"Netherlands","d":280,"v":222},{"s":"Netherlands","d":281,"v":238},{"s":"Netherlands","d":282,"v":260},
{"s":"France","d":25,"v":0},{"s":"France","d":50,"v":0},{"s":"France","d":55,"v":0.1},{"s":"France","d":60,"v":0.3},{"s":"France","d":63,"v":0.8},{"s":"France","d":66,"v":1.5},{"s":"France","d":69,"v":2.5},{"s":"France","d":72,"v":3.8},{"s":"France","d":74,"v":6},{"s":"France","d":76,"v":9},{"s":"France","d":78,"v":12},{"s":"France","d":80,"v":18},{"s":"France","d":82,"v":23},{"s":"France","d":84,"v":28},{"s":"France","d":86,"v":33},{"s":"France","d":88,"v":40},{"s":"France","d":90,"v":49},{"s":"France","d":91,"v":55},{"s":"France","d":92,"v":62},{"s":"France","d":93,"v":68.5},{"s":"France","d":94,"v":65},{"s":"France","d":95,"v":67},{"s":"France","d":96,"v":68},{"s":"France","d":97,"v":66},{"s":"France","d":98,"v":62},{"s":"France","d":100,"v":54},{"s":"France","d":101,"v":59},{"s":"France","d":102,"v":57},{"s":"France","d":104,"v":55},{"s":"France","d":106,"v":54},{"s":"France","d":107,"v":50},{"s":"France","d":108,"v":47},{"s":"France","d":109,"v":40},{"s":"France","d":111,"v":36},{"s":"France","d":113,"v":33},{"s":"France","d":115,"v":28},{"s":"France","d":117,"v":28},{"s":"France","d":119,"v":24},{"s":"France","d":121,"v":20.5},{"s":"France","d":123,"v":18},{"s":"France","d":125,"v":16.5},{"s":"France","d":127,"v":15},{"s":"France","d":129,"v":12},{"s":"France","d":131,"v":9.5},{"s":"France","d":134,"v":9},{"s":"France","d":137,"v":9.5},{"s":"France","d":140,"v":10},{"s":"France","d":143,"v":9},{"s":"France","d":146,"v":8.5},{"s":"France","d":149,"v":8.5},{"s":"France","d":151,"v":9},{"s":"France","d":152,"v":7},{"s":"France","d":155,"v":6.5},{"s":"France","d":158,"v":6.5},{"s":"France","d":161,"v":6},{"s":"France","d":164,"v":6.5},{"s":"France","d":167,"v":6.5},{"s":"France","d":171,"v":6.5},{"s":"France","d":175,"v":7},{"s":"France","d":179,"v":7.5},{"s":"France","d":182,"v":9},{"s":"France","d":183,"v":11.5},{"s":"France","d":185,"v":8.5},{"s":"France","d":188,"v":8},{"s":"France","d":192,"v":7.5},{"s":"France","d":196,"v":8},{"s":"France","d":200,"v":9},{"s":"France","d":204,"v":11},{"s":"France","d":208,"v":13.5},{"s":"France","d":212,"v":15},{"s":"France","d":216,"v":16},{"s":"France","d":219,"v":18},{"s":"France","d":222,"v":21},{"s":"France","d":225,"v":27},{"s":"France","d":227,"v":32},{"s":"France","d":229,"v":42},{"s":"France","d":230,"v":34},{"s":"France","d":232,"v":38},{"s":"France","d":234,"v":46},{"s":"France","d":236,"v":52},{"s":"France","d":238,"v":58},{"s":"France","d":240,"v":65},{"s":"France","d":242,"v":72},{"s":"France","d":244,"v":77},{"s":"France","d":246,"v":83},{"s":"France","d":248,"v":90},{"s":"France","d":250,"v":97},{"s":"France","d":252,"v":106},{"s":"France","d":254,"v":115},{"s":"France","d":256,"v":119},{"s":"France","d":258,"v":124},{"s":"France","d":260,"v":130},{"s":"France","d":262,"v":142},{"s":"France","d":264,"v":153},{"s":"France","d":265,"v":149},{"s":"France","d":266,"v":158},{"s":"France","d":267,"v":168},{"s":"France","d":268,"v":177},{"s":"France","d":269,"v":180},{"s":"France","d":270,"v":181},{"s":"France","d":271,"v":179},{"s":"France","d":272,"v":178},{"s":"France","d":273,"v":175},{"s":"France","d":274,"v":170},{"s":"France","d":275,"v":164},{"s":"France","d":276,"v":163},{"s":"France","d":277,"v":168},{"s":"France","d":278,"v":172},{"s":"France","d":279,"v":175},{"s":"France","d":280,"v":179},{"s":"France","d":281,"v":188},{"s":"France","d":282,"v":200},
{"s":"United Kingdom","d":25,"v":0},{"s":"United Kingdom","d":55,"v":0},{"s":"United Kingdom","d":60,"v":0.1},{"s":"United Kingdom","d":65,"v":0.3},{"s":"United Kingdom","d":69,"v":0.7},{"s":"United Kingdom","d":72,"v":1.3},{"s":"United Kingdom","d":75,"v":3},{"s":"United Kingdom","d":78,"v":4.5},{"s":"United Kingdom","d":80,"v":6.5},{"s":"United Kingdom","d":82,"v":9.5},{"s":"United Kingdom","d":84,"v":13.5},{"s":"United Kingdom","d":86,"v":18},{"s":"United Kingdom","d":88,"v":25},{"s":"United Kingdom","d":90,"v":33},{"s":"United Kingdom","d":92,"v":44},{"s":"United Kingdom","d":94,"v":54},{"s":"United Kingdom","d":96,"v":63},{"s":"United Kingdom","d":98,"v":69},{"s":"United Kingdom","d":100,"v":72},{"s":"United Kingdom","d":102,"v":76},{"s":"United Kingdom","d":104,"v":75},{"s":"United Kingdom","d":105,"v":78},{"s":"United Kingdom","d":107,"v":75},{"s":"United Kingdom","d":109,"v":75},{"s":"United Kingdom","d":111,"v":76},{"s":"United Kingdom","d":113,"v":74},{"s":"United Kingdom","d":115,"v":73},{"s":"United Kingdom","d":117,"v":71},{"s":"United Kingdom","d":119,"v":68},{"s":"United Kingdom","d":121,"v":70},{"s":"United Kingdom","d":122,"v":72},{"s":"United Kingdom","d":124,"v":72},{"s":"United Kingdom","d":126,"v":73},{"s":"United Kingdom","d":127,"v":76.5},{"s":"United Kingdom","d":129,"v":73},{"s":"United Kingdom","d":131,"v":67},{"s":"United Kingdom","d":133,"v":61},{"s":"United Kingdom","d":135,"v":56},{"s":"United Kingdom","d":137,"v":53},{"s":"United Kingdom","d":139,"v":50},{"s":"United Kingdom","d":141,"v":47},{"s":"United Kingdom","d":143,"v":44},{"s":"United Kingdom","d":145,"v":41},{"s":"United Kingdom","d":147,"v":38},{"s":"United Kingdom","d":149,"v":34},{"s":"United Kingdom","d":151,"v":32},{"s":"United Kingdom","d":153,"v":30},{"s":"United Kingdom","d":155,"v":28.5},{"s":"United Kingdom","d":157,"v":27},{"s":"United Kingdom","d":159,"v":25},{"s":"United Kingdom","d":161,"v":23},{"s":"United Kingdom","d":163,"v":21},{"s":"United Kingdom","d":165,"v":20},{"s":"United Kingdom","d":168,"v":19},{"s":"United Kingdom","d":171,"v":18.5},{"s":"United Kingdom","d":174,"v":17},{"s":"United Kingdom","d":177,"v":15.5},{"s":"United Kingdom","d":180,"v":13},{"s":"United Kingdom","d":183,"v":11.5},{"s":"United Kingdom","d":186,"v":10},{"s":"United Kingdom","d":189,"v":9},{"s":"United Kingdom","d":192,"v":8.5},{"s":"United Kingdom","d":196,"v":8.5},{"s":"United Kingdom","d":200,"v":9},{"s":"United Kingdom","d":205,"v":9.5},{"s":"United Kingdom","d":210,"v":10.5},{"s":"United Kingdom","d":214,"v":11},{"s":"United Kingdom","d":218,"v":11.5},{"s":"United Kingdom","d":222,"v":12},{"s":"United Kingdom","d":226,"v":14},{"s":"United Kingdom","d":229,"v":16},{"s":"United Kingdom","d":232,"v":16},{"s":"United Kingdom","d":236,"v":16.5},{"s":"United Kingdom","d":240,"v":17},{"s":"United Kingdom","d":243,"v":19.5},{"s":"United Kingdom","d":246,"v":22},{"s":"United Kingdom","d":248,"v":24},{"s":"United Kingdom","d":250,"v":28},{"s":"United Kingdom","d":252,"v":32},{"s":"United Kingdom","d":254,"v":38},{"s":"United Kingdom","d":256,"v":44},{"s":"United Kingdom","d":258,"v":47},{"s":"United Kingdom","d":260,"v":50},{"s":"United Kingdom","d":262,"v":53},{"s":"United Kingdom","d":264,"v":56},{"s":"United Kingdom","d":266,"v":61},{"s":"United Kingdom","d":268,"v":67},{"s":"United Kingdom","d":269,"v":72},{"s":"United Kingdom","d":270,"v":82},{"s":"United Kingdom","d":271,"v":91},{"s":"United Kingdom","d":272,"v":98},{"s":"United Kingdom","d":273,"v":108},{"s":"United Kingdom","d":274,"v":120},{"s":"United Kingdom","d":275,"v":130},{"s":"United Kingdom","d":276,"v":140},{"s":"United Kingdom","d":277,"v":148},{"s":"United Kingdom","d":278,"v":155},{"s":"United Kingdom","d":279,"v":162},{"s":"United Kingdom","d":280,"v":170},{"s":"United Kingdom","d":281,"v":180},{"s":"United Kingdom","d":282,"v":191},
{"s":"United States","d":25,"v":0},{"s":"United States","d":55,"v":0},{"s":"United States","d":62,"v":0.1},{"s":"United States","d":68,"v":0.3},{"s":"United States","d":72,"v":0.8},{"s":"United States","d":75,"v":1.8},{"s":"United States","d":77,"v":3},{"s":"United States","d":79,"v":5},{"s":"United States","d":81,"v":11},{"s":"United States","d":83,"v":19},{"s":"United States","d":85,"v":28},{"s":"United States","d":87,"v":37},{"s":"United States","d":89,"v":48},{"s":"United States","d":91,"v":58},{"s":"United States","d":93,"v":70},{"s":"United States","d":95,"v":80},{"s":"United States","d":97,"v":85},{"s":"United States","d":99,"v":90},{"s":"United States","d":101,"v":94.5},{"s":"United States","d":103,"v":93},{"s":"United States","d":105,"v":90},{"s":"United States","d":107,"v":88},{"s":"United States","d":110,"v":86.5},{"s":"United States","d":113,"v":87},{"s":"United States","d":115,"v":88.5},{"s":"United States","d":117,"v":91.5},{"s":"United States","d":118,"v":90},{"s":"United States","d":120,"v":88},{"s":"United States","d":122,"v":86},{"s":"United States","d":124,"v":83.5},{"s":"United States","d":127,"v":81},{"s":"United States","d":130,"v":76},{"s":"United States","d":133,"v":72.5},{"s":"United States","d":136,"v":70},{"s":"United States","d":139,"v":69},{"s":"United States","d":142,"v":68},{"s":"United States","d":145,"v":66.5},{"s":"United States","d":148,"v":63.5},{"s":"United States","d":150,"v":61.5},{"s":"United States","d":152,"v":62.5},{"s":"United States","d":155,"v":65.5},{"s":"United States","d":158,"v":64},{"s":"United States","d":161,"v":60.5},{"s":"United States","d":164,"v":62.5},{"s":"United States","d":166,"v":65},{"s":"United States","d":168,"v":69},{"s":"United States","d":170,"v":73},{"s":"United States","d":172,"v":78},{"s":"United States","d":175,"v":90},{"s":"United States","d":177,"v":99},{"s":"United States","d":180,"v":115},{"s":"United States","d":182,"v":127},{"s":"United States","d":184,"v":138},{"s":"United States","d":186,"v":148},{"s":"United States","d":188,"v":152},{"s":"United States","d":190,"v":160},{"s":"United States","d":192,"v":167},{"s":"United States","d":194,"v":178},{"s":"United States","d":196,"v":189},{"s":"United States","d":198,"v":197},{"s":"United States","d":200,"v":199},{"s":"United States","d":202,"v":200},{"s":"United States","d":204,"v":201.5},{"s":"United States","d":206,"v":201},{"s":"United States","d":208,"v":199},{"s":"United States","d":210,"v":197},{"s":"United States","d":212,"v":193},{"s":"United States","d":214,"v":184},{"s":"United States","d":216,"v":177},{"s":"United States","d":218,"v":170},{"s":"United States","d":220,"v":162},{"s":"United States","d":221,"v":159},{"s":"United States","d":222,"v":157},{"s":"United States","d":223,"v":160},{"s":"United States","d":225,"v":160},{"s":"United States","d":227,"v":157},{"s":"United States","d":229,"v":155},{"s":"United States","d":230,"v":151},{"s":"United States","d":232,"v":143},{"s":"United States","d":234,"v":134},{"s":"United States","d":236,"v":127},{"s":"United States","d":238,"v":124},{"s":"United States","d":240,"v":123.5},{"s":"United States","d":242,"v":123.5},{"s":"United States","d":244,"v":124},{"s":"United States","d":246,"v":120},{"s":"United States","d":247,"v":123},{"s":"United States","d":249,"v":118},{"s":"United States","d":251,"v":115},{"s":"United States","d":252,"v":109},{"s":"United States","d":254,"v":105},{"s":"United States","d":256,"v":103},{"s":"United States","d":258,"v":107},{"s":"United States","d":260,"v":113},{"s":"United States","d":262,"v":118},{"s":"United States","d":264,"v":121},{"s":"United States","d":266,"v":128},{"s":"United States","d":268,"v":128},{"s":"United States","d":270,"v":133},{"s":"United States","d":272,"v":130},{"s":"United States","d":273,"v":125.5},{"s":"United States","d":275,"v":128},{"s":"United States","d":277,"v":128},{"s":"United States","d":279,"v":132.5},{"s":"United States","d":281,"v":136},{"s":"United States","d":282,"v":138}
]},
"encoding":{
"x":{"field":"d","type":"quantitative","scale":{"domain":[5,282],"nice":false,"zero":false},"axis":{"title":null,"values":[32,61,92,122,153,183,214,245,275],"labelExpr":"['Feb','Mar','Apr','May','Jun','Jul','Aug','Sep','Oct'][indexof([32,61,92,122,153,183,214,245,275],datum.value)]","grid":true,"gridColor":"#e8dccf","gridWidth":1,"domain":false,"ticks":false,"labelFont":"Lato","labelFontSize":19.5,"labelColor":"#66605c","labelPadding":3,"labelFlush":false}},
"y":{"field":"v","type":"quantitative","scale":{"domain":[0,266],"nice":false,"zero":true},"axis":{"title":null,"values":[0,20,40,60,80,100,120,140,160,180,200,220,240,260],"grid":true,"gridColor":"#e8dccf","gridWidth":1,"domain":false,"ticks":false,"labelFont":"Lato","labelFontSize":18.5,"labelColor":"#66605c","labelPadding":5}}
},
"layer":[
{"data":{"name":"grey"},"mark":{"type":"line","clip":true,"color":"#b1aaa3","strokeWidth":1.1},"encoding":{"detail":{"field":"s","type":"nominal"}}},
{"data":{"name":"hi"},"transform":[{"filter":"datum.s=='United States'"}],"mark":{"type":"line","color":"#fff6ee","strokeWidth":7,"strokeJoin":"round","strokeCap":"round"},"encoding":{"detail":{"field":"s","type":"nominal"}}},
{"data":{"name":"hi"},"transform":[{"filter":"datum.s=='United States'"}],"mark":{"type":"line","color":"#e8628c","strokeWidth":3.6,"strokeJoin":"round"},"encoding":{"detail":{"field":"s","type":"nominal"}}},
{"data":{"name":"hi"},"transform":[{"filter":"datum.s=='United Kingdom'"}],"mark":{"type":"line","color":"#fff6ee","strokeWidth":7,"strokeJoin":"round","strokeCap":"round"},"encoding":{"detail":{"field":"s","type":"nominal"}}},
{"data":{"name":"hi"},"transform":[{"filter":"datum.s=='United Kingdom'"}],"mark":{"type":"line","color":"#9bc44b","strokeWidth":3.6,"strokeJoin":"round"},"encoding":{"detail":{"field":"s","type":"nominal"}}},
{"data":{"name":"hi"},"transform":[{"filter":"datum.s=='Netherlands'"}],"mark":{"type":"line","color":"#fff6ee","strokeWidth":7,"strokeJoin":"round","strokeCap":"round"},"encoding":{"detail":{"field":"s","type":"nominal"}}},
{"data":{"name":"hi"},"transform":[{"filter":"datum.s=='Netherlands'"}],"mark":{"type":"line","color":"#2b97d4","strokeWidth":3.6,"strokeJoin":"round"},"encoding":{"detail":{"field":"s","type":"nominal"}}},
{"data":{"name":"hi"},"transform":[{"filter":"datum.s=='European Union'"}],"mark":{"type":"line","color":"#fff6ee","strokeWidth":7,"strokeJoin":"round","strokeCap":"round"},"encoding":{"detail":{"field":"s","type":"nominal"}}},
{"data":{"name":"hi"},"transform":[{"filter":"datum.s=='European Union'"}],"mark":{"type":"line","color":"#174f91","strokeWidth":3.6,"strokeJoin":"round"},"encoding":{"detail":{"field":"s","type":"nominal"}}},
{"data":{"name":"hi"},"transform":[{"filter":"datum.s=='Germany'"}],"mark":{"type":"line","color":"#fff6ee","strokeWidth":7,"strokeJoin":"round","strokeCap":"round"},"encoding":{"detail":{"field":"s","type":"nominal"}}},
{"data":{"name":"hi"},"transform":[{"filter":"datum.s=='Germany'"}],"mark":{"type":"line","color":"#d4323f","strokeWidth":3.6,"strokeJoin":"round"},"encoding":{"detail":{"field":"s","type":"nominal"}}},
{"data":{"name":"hi"},"transform":[{"filter":"datum.s=='France'"}],"mark":{"type":"line","color":"#fff6ee","strokeWidth":7,"strokeJoin":"round","strokeCap":"round"},"encoding":{"detail":{"field":"s","type":"nominal"}}},
{"data":{"name":"hi"},"transform":[{"filter":"datum.s=='France'"}],"mark":{"type":"line","color":"#7c0d33","strokeWidth":3.6,"strokeJoin":"round"},"encoding":{"detail":{"field":"s","type":"nominal"}}},
{"data":{"name":"hi"},"transform":[{"filter":"datum.d==282"}],"mark":{"type":"point","filled":true,"size":105,"opacity":1},"encoding":{"color":{"field":"s","type":"nominal","scale":{"domain":["Netherlands","France","United Kingdom","United States","European Union","Germany"],"range":["#2b97d4","#7c0d33","#9bc44b","#e8628c","#174f91","#d4323f"]},"legend":null}}},
{"data":{"name":"hi"},"transform":[{"filter":"datum.d==282"}],"mark":{"type":"text","align":"left","baseline":"middle","dx":13,"font":"Lato","fontSize":19.5},"encoding":{"text":{"field":"s","type":"nominal"},"color":{"field":"s","type":"nominal","scale":{"domain":["Netherlands","France","United Kingdom","United States","European Union","Germany"],"range":["#2b97d4","#7c0d33","#8fb840","#e8628c","#174f91","#d4323f"]},"legend":null}}}
]
}
